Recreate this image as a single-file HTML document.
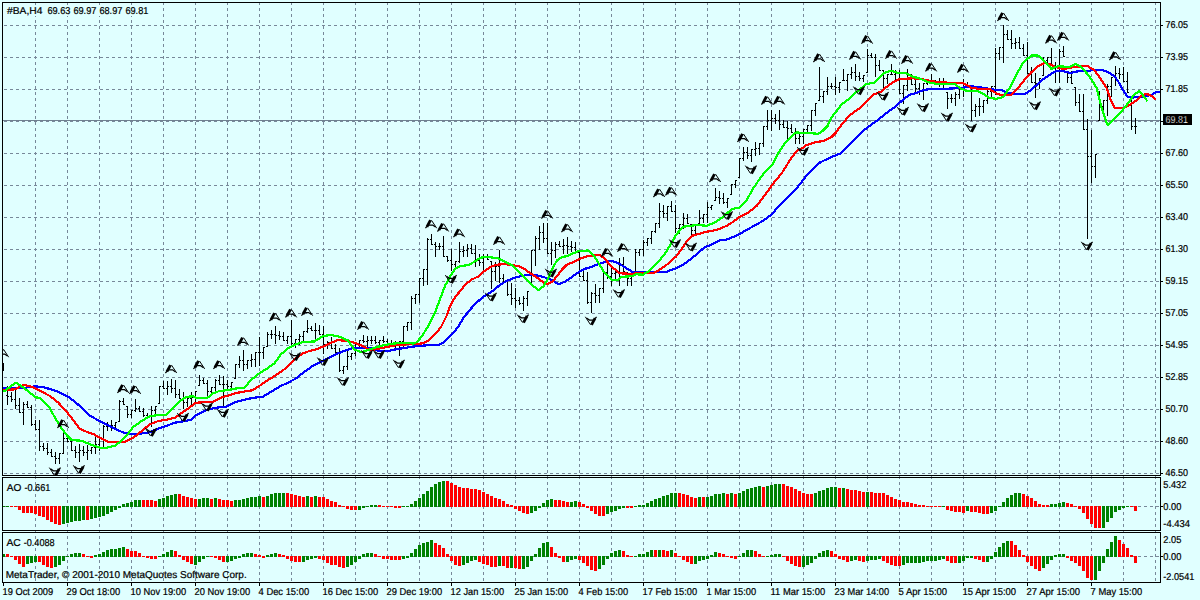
<!DOCTYPE html>
<html><head><meta charset="utf-8"><title>#BA,H4</title>
<style>
html,body{margin:0;padding:0;background:#E0FFFF;}
body{width:1200px;height:600px;overflow:hidden;}
svg{display:block;font-family:"Liberation Sans",Arial,sans-serif;font-size:10px;text-rendering:geometricPrecision;}
text{stroke:#000;stroke-width:0.22px;}
.c{shape-rendering:crispEdges;}
</style></head><body>
<svg width="1200" height="600" viewBox="0 0 1200 600">
<rect x="0" y="0" width="1200" height="600" fill="#E0FFFF"/>
<g class="c" stroke="#778899" stroke-width="1" fill="none" stroke-dasharray="3 3">
<path d="M35.5 2V476" stroke-dashoffset="0"/><path d="M35.5 478V530" stroke-dashoffset="2"/><path d="M35.5 533V582" stroke-dashoffset="3"/>
<path d="M67.5 2V476" stroke-dashoffset="0"/><path d="M67.5 478V530" stroke-dashoffset="2"/><path d="M67.5 533V582" stroke-dashoffset="3"/>
<path d="M99.5 2V476" stroke-dashoffset="0"/><path d="M99.5 478V530" stroke-dashoffset="2"/><path d="M99.5 533V582" stroke-dashoffset="3"/>
<path d="M131.5 2V476" stroke-dashoffset="0"/><path d="M131.5 478V530" stroke-dashoffset="2"/><path d="M131.5 533V582" stroke-dashoffset="3"/>
<path d="M163.5 2V476" stroke-dashoffset="0"/><path d="M163.5 478V530" stroke-dashoffset="2"/><path d="M163.5 533V582" stroke-dashoffset="3"/>
<path d="M195.5 2V476" stroke-dashoffset="0"/><path d="M195.5 478V530" stroke-dashoffset="2"/><path d="M195.5 533V582" stroke-dashoffset="3"/>
<path d="M227.5 2V476" stroke-dashoffset="0"/><path d="M227.5 478V530" stroke-dashoffset="2"/><path d="M227.5 533V582" stroke-dashoffset="3"/>
<path d="M259.5 2V476" stroke-dashoffset="0"/><path d="M259.5 478V530" stroke-dashoffset="2"/><path d="M259.5 533V582" stroke-dashoffset="3"/>
<path d="M291.5 2V476" stroke-dashoffset="0"/><path d="M291.5 478V530" stroke-dashoffset="2"/><path d="M291.5 533V582" stroke-dashoffset="3"/>
<path d="M323.5 2V476" stroke-dashoffset="0"/><path d="M323.5 478V530" stroke-dashoffset="2"/><path d="M323.5 533V582" stroke-dashoffset="3"/>
<path d="M355.5 2V476" stroke-dashoffset="0"/><path d="M355.5 478V530" stroke-dashoffset="2"/><path d="M355.5 533V582" stroke-dashoffset="3"/>
<path d="M387.5 2V476" stroke-dashoffset="0"/><path d="M387.5 478V530" stroke-dashoffset="2"/><path d="M387.5 533V582" stroke-dashoffset="3"/>
<path d="M419.5 2V476" stroke-dashoffset="0"/><path d="M419.5 478V530" stroke-dashoffset="2"/><path d="M419.5 533V582" stroke-dashoffset="3"/>
<path d="M451.5 2V476" stroke-dashoffset="0"/><path d="M451.5 478V530" stroke-dashoffset="2"/><path d="M451.5 533V582" stroke-dashoffset="3"/>
<path d="M483.5 2V476" stroke-dashoffset="0"/><path d="M483.5 478V530" stroke-dashoffset="2"/><path d="M483.5 533V582" stroke-dashoffset="3"/>
<path d="M515.5 2V476" stroke-dashoffset="0"/><path d="M515.5 478V530" stroke-dashoffset="2"/><path d="M515.5 533V582" stroke-dashoffset="3"/>
<path d="M547.5 2V476" stroke-dashoffset="0"/><path d="M547.5 478V530" stroke-dashoffset="2"/><path d="M547.5 533V582" stroke-dashoffset="3"/>
<path d="M579.5 2V476" stroke-dashoffset="0"/><path d="M579.5 478V530" stroke-dashoffset="2"/><path d="M579.5 533V582" stroke-dashoffset="3"/>
<path d="M611.5 2V476" stroke-dashoffset="0"/><path d="M611.5 478V530" stroke-dashoffset="2"/><path d="M611.5 533V582" stroke-dashoffset="3"/>
<path d="M643.5 2V476" stroke-dashoffset="0"/><path d="M643.5 478V530" stroke-dashoffset="2"/><path d="M643.5 533V582" stroke-dashoffset="3"/>
<path d="M675.5 2V476" stroke-dashoffset="0"/><path d="M675.5 478V530" stroke-dashoffset="2"/><path d="M675.5 533V582" stroke-dashoffset="3"/>
<path d="M707.5 2V476" stroke-dashoffset="0"/><path d="M707.5 478V530" stroke-dashoffset="2"/><path d="M707.5 533V582" stroke-dashoffset="3"/>
<path d="M739.5 2V476" stroke-dashoffset="0"/><path d="M739.5 478V530" stroke-dashoffset="2"/><path d="M739.5 533V582" stroke-dashoffset="3"/>
<path d="M771.5 2V476" stroke-dashoffset="0"/><path d="M771.5 478V530" stroke-dashoffset="2"/><path d="M771.5 533V582" stroke-dashoffset="3"/>
<path d="M803.5 2V476" stroke-dashoffset="0"/><path d="M803.5 478V530" stroke-dashoffset="2"/><path d="M803.5 533V582" stroke-dashoffset="3"/>
<path d="M835.5 2V476" stroke-dashoffset="0"/><path d="M835.5 478V530" stroke-dashoffset="2"/><path d="M835.5 533V582" stroke-dashoffset="3"/>
<path d="M867.5 2V476" stroke-dashoffset="0"/><path d="M867.5 478V530" stroke-dashoffset="2"/><path d="M867.5 533V582" stroke-dashoffset="3"/>
<path d="M899.5 2V476" stroke-dashoffset="0"/><path d="M899.5 478V530" stroke-dashoffset="2"/><path d="M899.5 533V582" stroke-dashoffset="3"/>
<path d="M931.5 2V476" stroke-dashoffset="0"/><path d="M931.5 478V530" stroke-dashoffset="2"/><path d="M931.5 533V582" stroke-dashoffset="3"/>
<path d="M963.5 2V476" stroke-dashoffset="0"/><path d="M963.5 478V530" stroke-dashoffset="2"/><path d="M963.5 533V582" stroke-dashoffset="3"/>
<path d="M995.5 2V476" stroke-dashoffset="0"/><path d="M995.5 478V530" stroke-dashoffset="2"/><path d="M995.5 533V582" stroke-dashoffset="3"/>
<path d="M1027.5 2V476" stroke-dashoffset="0"/><path d="M1027.5 478V530" stroke-dashoffset="2"/><path d="M1027.5 533V582" stroke-dashoffset="3"/>
<path d="M1059.5 2V476" stroke-dashoffset="0"/><path d="M1059.5 478V530" stroke-dashoffset="2"/><path d="M1059.5 533V582" stroke-dashoffset="3"/>
<path d="M1091.5 2V476" stroke-dashoffset="0"/><path d="M1091.5 478V530" stroke-dashoffset="2"/><path d="M1091.5 533V582" stroke-dashoffset="3"/>
<path d="M1123.5 2V476" stroke-dashoffset="0"/><path d="M1123.5 478V530" stroke-dashoffset="2"/><path d="M1123.5 533V582" stroke-dashoffset="3"/>
<path d="M1155.5 2V476" stroke-dashoffset="0"/><path d="M1155.5 478V530" stroke-dashoffset="2"/><path d="M1155.5 533V582" stroke-dashoffset="3"/>
<path d="M3 25.5H1160" stroke-dashoffset="5"/>
<path d="M3 57.5H1160" stroke-dashoffset="5"/>
<path d="M3 89.5H1160" stroke-dashoffset="5"/>
<path d="M3 121.5H1160" stroke-dashoffset="5"/>
<path d="M3 153.5H1160" stroke-dashoffset="5"/>
<path d="M3 185.5H1160" stroke-dashoffset="5"/>
<path d="M3 217.5H1160" stroke-dashoffset="5"/>
<path d="M3 249.5H1160" stroke-dashoffset="5"/>
<path d="M3 281.5H1160" stroke-dashoffset="5"/>
<path d="M3 313.5H1160" stroke-dashoffset="5"/>
<path d="M3 345.5H1160" stroke-dashoffset="5"/>
<path d="M3 377.5H1160" stroke-dashoffset="5"/>
<path d="M3 409.5H1160" stroke-dashoffset="5"/>
<path d="M3 441.5H1160" stroke-dashoffset="5"/>
<path d="M3 473.5H1160" stroke-dashoffset="5"/>
<path d="M3 506.5H1160" stroke-dashoffset="5"/>
<path d="M3 556.5H1160" stroke-dashoffset="5"/>
</g>
<rect class="c" x="3" y="120" width="1158" height="1" fill="#708090"/>
<g class="c" id="ao">
<rect x="2" y="506" width="3" height="1" fill="#008000"/><rect x="6" y="506" width="3" height="1" fill="#008000"/><rect x="10" y="506" width="3" height="1" fill="#FF0000"/><rect x="14" y="506" width="3" height="1" fill="#FF0000"/><rect x="18" y="506" width="3" height="4" fill="#FF0000"/><rect x="22" y="506" width="3" height="7" fill="#FF0000"/><rect x="26" y="506" width="3" height="7" fill="#FF0000"/><rect x="30" y="506" width="3" height="7" fill="#FF0000"/><rect x="34" y="506" width="3" height="8" fill="#FF0000"/><rect x="38" y="506" width="3" height="10" fill="#FF0000"/><rect x="42" y="506" width="3" height="11" fill="#FF0000"/><rect x="46" y="506" width="3" height="14" fill="#FF0000"/><rect x="50" y="506" width="3" height="16" fill="#FF0000"/><rect x="54" y="506" width="3" height="18" fill="#FF0000"/><rect x="58" y="506" width="3" height="19" fill="#FF0000"/><rect x="62" y="506" width="3" height="18" fill="#008000"/><rect x="66" y="506" width="3" height="17" fill="#008000"/><rect x="70" y="506" width="3" height="16" fill="#008000"/><rect x="74" y="506" width="3" height="15" fill="#008000"/><rect x="78" y="506" width="3" height="15" fill="#008000"/><rect x="82" y="506" width="3" height="14" fill="#008000"/><rect x="86" y="506" width="3" height="14" fill="#FF0000"/><rect x="90" y="506" width="3" height="13" fill="#008000"/><rect x="94" y="506" width="3" height="12" fill="#008000"/><rect x="98" y="506" width="3" height="11" fill="#008000"/><rect x="102" y="506" width="3" height="10" fill="#008000"/><rect x="106" y="506" width="3" height="8" fill="#008000"/><rect x="110" y="506" width="3" height="6" fill="#008000"/><rect x="114" y="506" width="3" height="4" fill="#008000"/><rect x="118" y="506" width="3" height="2" fill="#008000"/><rect x="122" y="504" width="3" height="3" fill="#008000"/><rect x="126" y="503" width="3" height="4" fill="#008000"/><rect x="130" y="502" width="3" height="5" fill="#008000"/><rect x="134" y="500" width="3" height="7" fill="#008000"/><rect x="138" y="500" width="3" height="7" fill="#008000"/><rect x="142" y="500" width="3" height="7" fill="#FF0000"/><rect x="146" y="500" width="3" height="7" fill="#FF0000"/><rect x="150" y="500" width="3" height="7" fill="#FF0000"/><rect x="154" y="501" width="3" height="6" fill="#FF0000"/><rect x="158" y="499" width="3" height="8" fill="#008000"/><rect x="162" y="498" width="3" height="9" fill="#008000"/><rect x="166" y="496" width="3" height="11" fill="#008000"/><rect x="170" y="495" width="3" height="12" fill="#008000"/><rect x="174" y="494" width="3" height="13" fill="#008000"/><rect x="178" y="494" width="3" height="13" fill="#FF0000"/><rect x="182" y="496" width="3" height="11" fill="#FF0000"/><rect x="186" y="497" width="3" height="10" fill="#FF0000"/><rect x="190" y="498" width="3" height="9" fill="#FF0000"/><rect x="194" y="499" width="3" height="8" fill="#FF0000"/><rect x="198" y="499" width="3" height="8" fill="#008000"/><rect x="202" y="498" width="3" height="9" fill="#008000"/><rect x="206" y="498" width="3" height="9" fill="#008000"/><rect x="210" y="499" width="3" height="8" fill="#FF0000"/><rect x="214" y="498" width="3" height="9" fill="#008000"/><rect x="218" y="499" width="3" height="8" fill="#FF0000"/><rect x="222" y="500" width="3" height="7" fill="#FF0000"/><rect x="226" y="500" width="3" height="7" fill="#FF0000"/><rect x="230" y="501" width="3" height="6" fill="#FF0000"/><rect x="234" y="500" width="3" height="7" fill="#008000"/><rect x="238" y="500" width="3" height="7" fill="#008000"/><rect x="242" y="499" width="3" height="8" fill="#008000"/><rect x="246" y="498" width="3" height="9" fill="#008000"/><rect x="250" y="497" width="3" height="10" fill="#008000"/><rect x="254" y="497" width="3" height="10" fill="#008000"/><rect x="258" y="496" width="3" height="11" fill="#008000"/><rect x="262" y="497" width="3" height="10" fill="#FF0000"/><rect x="266" y="496" width="3" height="11" fill="#008000"/><rect x="270" y="494" width="3" height="13" fill="#008000"/><rect x="274" y="493" width="3" height="14" fill="#008000"/><rect x="278" y="493" width="3" height="14" fill="#008000"/><rect x="282" y="493" width="3" height="14" fill="#008000"/><rect x="286" y="493" width="3" height="14" fill="#FF0000"/><rect x="290" y="494" width="3" height="13" fill="#FF0000"/><rect x="294" y="495" width="3" height="12" fill="#FF0000"/><rect x="298" y="496" width="3" height="11" fill="#FF0000"/><rect x="302" y="497" width="3" height="10" fill="#FF0000"/><rect x="306" y="496" width="3" height="11" fill="#008000"/><rect x="310" y="497" width="3" height="10" fill="#FF0000"/><rect x="314" y="496" width="3" height="11" fill="#008000"/><rect x="318" y="497" width="3" height="10" fill="#FF0000"/><rect x="322" y="497" width="3" height="10" fill="#FF0000"/><rect x="326" y="499" width="3" height="8" fill="#FF0000"/><rect x="330" y="501" width="3" height="6" fill="#FF0000"/><rect x="334" y="502" width="3" height="5" fill="#FF0000"/><rect x="338" y="505" width="3" height="2" fill="#FF0000"/><rect x="342" y="506" width="3" height="1" fill="#FF0000"/><rect x="346" y="506" width="3" height="3" fill="#FF0000"/><rect x="350" y="506" width="3" height="4" fill="#FF0000"/><rect x="354" y="506" width="3" height="4" fill="#FF0000"/><rect x="358" y="506" width="3" height="4" fill="#008000"/><rect x="362" y="506" width="3" height="2" fill="#008000"/><rect x="366" y="506" width="3" height="1" fill="#008000"/><rect x="370" y="505" width="3" height="2" fill="#008000"/><rect x="374" y="505" width="3" height="2" fill="#008000"/><rect x="378" y="505" width="3" height="2" fill="#FF0000"/><rect x="382" y="506" width="3" height="1" fill="#FF0000"/><rect x="386" y="506" width="3" height="1" fill="#FF0000"/><rect x="390" y="506" width="3" height="1" fill="#FF0000"/><rect x="394" y="506" width="3" height="2" fill="#FF0000"/><rect x="398" y="506" width="3" height="2" fill="#FF0000"/><rect x="402" y="506" width="3" height="1" fill="#008000"/><rect x="406" y="506" width="3" height="1" fill="#008000"/><rect x="410" y="504" width="3" height="3" fill="#008000"/><rect x="414" y="501" width="3" height="6" fill="#008000"/><rect x="418" y="498" width="3" height="9" fill="#008000"/><rect x="422" y="494" width="3" height="13" fill="#008000"/><rect x="426" y="491" width="3" height="16" fill="#008000"/><rect x="430" y="487" width="3" height="20" fill="#008000"/><rect x="434" y="484" width="3" height="23" fill="#008000"/><rect x="438" y="482" width="3" height="25" fill="#008000"/><rect x="442" y="481" width="3" height="26" fill="#008000"/><rect x="446" y="481" width="3" height="26" fill="#FF0000"/><rect x="450" y="483" width="3" height="24" fill="#FF0000"/><rect x="454" y="485" width="3" height="22" fill="#FF0000"/><rect x="458" y="487" width="3" height="20" fill="#FF0000"/><rect x="462" y="488" width="3" height="19" fill="#FF0000"/><rect x="466" y="488" width="3" height="19" fill="#FF0000"/><rect x="470" y="489" width="3" height="18" fill="#FF0000"/><rect x="474" y="489" width="3" height="18" fill="#FF0000"/><rect x="478" y="490" width="3" height="17" fill="#FF0000"/><rect x="482" y="492" width="3" height="15" fill="#FF0000"/><rect x="486" y="494" width="3" height="13" fill="#FF0000"/><rect x="490" y="496" width="3" height="11" fill="#FF0000"/><rect x="494" y="498" width="3" height="9" fill="#FF0000"/><rect x="498" y="499" width="3" height="8" fill="#FF0000"/><rect x="502" y="501" width="3" height="6" fill="#FF0000"/><rect x="506" y="504" width="3" height="3" fill="#FF0000"/><rect x="510" y="505" width="3" height="2" fill="#FF0000"/><rect x="514" y="506" width="3" height="3" fill="#FF0000"/><rect x="518" y="506" width="3" height="5" fill="#FF0000"/><rect x="522" y="506" width="3" height="7" fill="#FF0000"/><rect x="526" y="506" width="3" height="8" fill="#FF0000"/><rect x="530" y="506" width="3" height="7" fill="#008000"/><rect x="534" y="506" width="3" height="5" fill="#008000"/><rect x="538" y="506" width="3" height="2" fill="#008000"/><rect x="542" y="503" width="3" height="4" fill="#008000"/><rect x="546" y="500" width="3" height="7" fill="#008000"/><rect x="550" y="499" width="3" height="8" fill="#008000"/><rect x="554" y="500" width="3" height="7" fill="#FF0000"/><rect x="558" y="500" width="3" height="7" fill="#FF0000"/><rect x="562" y="501" width="3" height="6" fill="#FF0000"/><rect x="566" y="502" width="3" height="5" fill="#FF0000"/><rect x="570" y="502" width="3" height="5" fill="#008000"/><rect x="574" y="501" width="3" height="6" fill="#008000"/><rect x="578" y="502" width="3" height="5" fill="#FF0000"/><rect x="582" y="504" width="3" height="3" fill="#FF0000"/><rect x="586" y="506" width="3" height="2" fill="#FF0000"/><rect x="590" y="506" width="3" height="5" fill="#FF0000"/><rect x="594" y="506" width="3" height="8" fill="#FF0000"/><rect x="598" y="506" width="3" height="10" fill="#FF0000"/><rect x="602" y="506" width="3" height="10" fill="#FF0000"/><rect x="606" y="506" width="3" height="8" fill="#008000"/><rect x="610" y="506" width="3" height="6" fill="#008000"/><rect x="614" y="506" width="3" height="5" fill="#008000"/><rect x="618" y="506" width="3" height="3" fill="#008000"/><rect x="622" y="506" width="3" height="2" fill="#008000"/><rect x="626" y="506" width="3" height="2" fill="#FF0000"/><rect x="630" y="506" width="3" height="2" fill="#FF0000"/><rect x="634" y="506" width="3" height="1" fill="#008000"/><rect x="638" y="505" width="3" height="2" fill="#008000"/><rect x="642" y="505" width="3" height="2" fill="#008000"/><rect x="646" y="503" width="3" height="4" fill="#008000"/><rect x="650" y="501" width="3" height="6" fill="#008000"/><rect x="654" y="499" width="3" height="8" fill="#008000"/><rect x="658" y="498" width="3" height="9" fill="#008000"/><rect x="662" y="496" width="3" height="11" fill="#008000"/><rect x="666" y="495" width="3" height="12" fill="#008000"/><rect x="670" y="493" width="3" height="14" fill="#008000"/><rect x="674" y="493" width="3" height="14" fill="#008000"/><rect x="678" y="493" width="3" height="14" fill="#FF0000"/><rect x="682" y="494" width="3" height="13" fill="#FF0000"/><rect x="686" y="495" width="3" height="12" fill="#FF0000"/><rect x="690" y="497" width="3" height="10" fill="#FF0000"/><rect x="694" y="498" width="3" height="9" fill="#FF0000"/><rect x="698" y="497" width="3" height="10" fill="#008000"/><rect x="702" y="497" width="3" height="10" fill="#FF0000"/><rect x="706" y="497" width="3" height="10" fill="#008000"/><rect x="710" y="496" width="3" height="11" fill="#008000"/><rect x="714" y="494" width="3" height="13" fill="#008000"/><rect x="718" y="494" width="3" height="13" fill="#008000"/><rect x="722" y="493" width="3" height="14" fill="#008000"/><rect x="726" y="494" width="3" height="13" fill="#FF0000"/><rect x="730" y="493" width="3" height="14" fill="#008000"/><rect x="734" y="494" width="3" height="13" fill="#FF0000"/><rect x="738" y="493" width="3" height="14" fill="#008000"/><rect x="742" y="491" width="3" height="16" fill="#008000"/><rect x="746" y="489" width="3" height="18" fill="#008000"/><rect x="750" y="488" width="3" height="19" fill="#008000"/><rect x="754" y="487" width="3" height="20" fill="#008000"/><rect x="758" y="486" width="3" height="21" fill="#008000"/><rect x="762" y="487" width="3" height="20" fill="#FF0000"/><rect x="766" y="486" width="3" height="21" fill="#008000"/><rect x="770" y="485" width="3" height="22" fill="#008000"/><rect x="774" y="484" width="3" height="23" fill="#008000"/><rect x="778" y="484" width="3" height="23" fill="#008000"/><rect x="782" y="484" width="3" height="23" fill="#FF0000"/><rect x="786" y="486" width="3" height="21" fill="#FF0000"/><rect x="790" y="487" width="3" height="20" fill="#FF0000"/><rect x="794" y="489" width="3" height="18" fill="#FF0000"/><rect x="798" y="491" width="3" height="16" fill="#FF0000"/><rect x="802" y="493" width="3" height="14" fill="#FF0000"/><rect x="806" y="494" width="3" height="13" fill="#FF0000"/><rect x="810" y="494" width="3" height="13" fill="#FF0000"/><rect x="814" y="493" width="3" height="14" fill="#008000"/><rect x="818" y="491" width="3" height="16" fill="#008000"/><rect x="822" y="490" width="3" height="17" fill="#008000"/><rect x="826" y="488" width="3" height="19" fill="#008000"/><rect x="830" y="487" width="3" height="20" fill="#008000"/><rect x="834" y="487" width="3" height="20" fill="#008000"/><rect x="838" y="488" width="3" height="19" fill="#FF0000"/><rect x="842" y="488" width="3" height="19" fill="#008000"/><rect x="846" y="489" width="3" height="18" fill="#FF0000"/><rect x="850" y="490" width="3" height="17" fill="#FF0000"/><rect x="854" y="490" width="3" height="17" fill="#FF0000"/><rect x="858" y="491" width="3" height="16" fill="#FF0000"/><rect x="862" y="492" width="3" height="15" fill="#FF0000"/><rect x="866" y="492" width="3" height="15" fill="#008000"/><rect x="870" y="492" width="3" height="15" fill="#FF0000"/><rect x="874" y="493" width="3" height="14" fill="#FF0000"/><rect x="878" y="493" width="3" height="14" fill="#FF0000"/><rect x="882" y="493" width="3" height="14" fill="#FF0000"/><rect x="886" y="495" width="3" height="12" fill="#FF0000"/><rect x="890" y="497" width="3" height="10" fill="#FF0000"/><rect x="894" y="499" width="3" height="8" fill="#FF0000"/><rect x="898" y="500" width="3" height="7" fill="#FF0000"/><rect x="902" y="502" width="3" height="5" fill="#FF0000"/><rect x="906" y="502" width="3" height="5" fill="#FF0000"/><rect x="910" y="503" width="3" height="4" fill="#FF0000"/><rect x="914" y="504" width="3" height="3" fill="#FF0000"/><rect x="918" y="505" width="3" height="2" fill="#FF0000"/><rect x="922" y="505" width="3" height="2" fill="#FF0000"/><rect x="926" y="506" width="3" height="1" fill="#FF0000"/><rect x="930" y="506" width="3" height="1" fill="#FF0000"/><rect x="934" y="506" width="3" height="1" fill="#FF0000"/><rect x="938" y="506" width="3" height="1" fill="#FF0000"/><rect x="942" y="506" width="3" height="1" fill="#008000"/><rect x="946" y="506" width="3" height="4" fill="#FF0000"/><rect x="950" y="506" width="3" height="5" fill="#FF0000"/><rect x="954" y="506" width="3" height="6" fill="#FF0000"/><rect x="958" y="506" width="3" height="6" fill="#FF0000"/><rect x="962" y="506" width="3" height="7" fill="#FF0000"/><rect x="966" y="506" width="3" height="5" fill="#008000"/><rect x="970" y="506" width="3" height="6" fill="#FF0000"/><rect x="974" y="506" width="3" height="6" fill="#FF0000"/><rect x="978" y="506" width="3" height="7" fill="#FF0000"/><rect x="982" y="506" width="3" height="8" fill="#FF0000"/><rect x="986" y="506" width="3" height="8" fill="#FF0000"/><rect x="990" y="506" width="3" height="7" fill="#008000"/><rect x="994" y="506" width="3" height="5" fill="#008000"/><rect x="998" y="506" width="3" height="1" fill="#008000"/><rect x="1002" y="502" width="3" height="5" fill="#008000"/><rect x="1006" y="498" width="3" height="9" fill="#008000"/><rect x="1010" y="495" width="3" height="12" fill="#008000"/><rect x="1014" y="493" width="3" height="14" fill="#008000"/><rect x="1018" y="493" width="3" height="14" fill="#008000"/><rect x="1022" y="494" width="3" height="13" fill="#FF0000"/><rect x="1026" y="496" width="3" height="11" fill="#FF0000"/><rect x="1030" y="498" width="3" height="9" fill="#FF0000"/><rect x="1034" y="501" width="3" height="6" fill="#FF0000"/><rect x="1038" y="504" width="3" height="3" fill="#FF0000"/><rect x="1042" y="505" width="3" height="2" fill="#FF0000"/><rect x="1046" y="505" width="3" height="2" fill="#FF0000"/><rect x="1050" y="504" width="3" height="3" fill="#008000"/><rect x="1054" y="504" width="3" height="3" fill="#008000"/><rect x="1058" y="503" width="3" height="4" fill="#008000"/><rect x="1062" y="502" width="3" height="5" fill="#008000"/><rect x="1066" y="503" width="3" height="4" fill="#FF0000"/><rect x="1070" y="504" width="3" height="3" fill="#FF0000"/><rect x="1074" y="506" width="3" height="1" fill="#FF0000"/><rect x="1078" y="506" width="3" height="3" fill="#FF0000"/><rect x="1082" y="506" width="3" height="7" fill="#FF0000"/><rect x="1086" y="506" width="3" height="13" fill="#FF0000"/><rect x="1090" y="506" width="3" height="18" fill="#FF0000"/><rect x="1094" y="506" width="3" height="22" fill="#FF0000"/><rect x="1098" y="506" width="3" height="22" fill="#FF0000"/><rect x="1102" y="506" width="3" height="22" fill="#008000"/><rect x="1106" y="506" width="3" height="16" fill="#008000"/><rect x="1110" y="506" width="3" height="12" fill="#008000"/><rect x="1114" y="506" width="3" height="6" fill="#008000"/><rect x="1118" y="506" width="3" height="4" fill="#008000"/><rect x="1122" y="506" width="3" height="2" fill="#008000"/><rect x="1126" y="506" width="3" height="1" fill="#008000"/><rect x="1130" y="506" width="3" height="1" fill="#FF0000"/><rect x="1134" y="506" width="3" height="5" fill="#FF0000"/>
</g>
<g class="c" id="ac">
<rect x="2" y="554" width="3" height="3" fill="#008000"/><rect x="6" y="554" width="3" height="3" fill="#FF0000"/><rect x="10" y="556" width="3" height="1" fill="#FF0000"/><rect x="14" y="556" width="3" height="4" fill="#FF0000"/><rect x="18" y="556" width="3" height="8" fill="#FF0000"/><rect x="22" y="556" width="3" height="11" fill="#FF0000"/><rect x="26" y="556" width="3" height="8" fill="#008000"/><rect x="30" y="556" width="3" height="7" fill="#008000"/><rect x="34" y="556" width="3" height="6" fill="#008000"/><rect x="38" y="556" width="3" height="6" fill="#FF0000"/><rect x="42" y="556" width="3" height="9" fill="#FF0000"/><rect x="46" y="556" width="3" height="11" fill="#FF0000"/><rect x="50" y="556" width="3" height="12" fill="#FF0000"/><rect x="54" y="556" width="3" height="11" fill="#008000"/><rect x="58" y="556" width="3" height="9" fill="#008000"/><rect x="62" y="556" width="3" height="5" fill="#008000"/><rect x="66" y="556" width="3" height="1" fill="#008000"/><rect x="70" y="554" width="3" height="3" fill="#008000"/><rect x="74" y="553" width="3" height="4" fill="#008000"/><rect x="78" y="553" width="3" height="4" fill="#008000"/><rect x="82" y="554" width="3" height="3" fill="#FF0000"/><rect x="86" y="556" width="3" height="1" fill="#FF0000"/><rect x="90" y="556" width="3" height="2" fill="#FF0000"/><rect x="94" y="555" width="3" height="2" fill="#008000"/><rect x="98" y="554" width="3" height="3" fill="#008000"/><rect x="102" y="552" width="3" height="5" fill="#008000"/><rect x="106" y="550" width="3" height="7" fill="#008000"/><rect x="110" y="549" width="3" height="8" fill="#008000"/><rect x="114" y="549" width="3" height="8" fill="#008000"/><rect x="118" y="548" width="3" height="9" fill="#008000"/><rect x="122" y="547" width="3" height="10" fill="#008000"/><rect x="126" y="549" width="3" height="8" fill="#FF0000"/><rect x="130" y="551" width="3" height="6" fill="#FF0000"/><rect x="134" y="551" width="3" height="6" fill="#FF0000"/><rect x="138" y="553" width="3" height="4" fill="#FF0000"/><rect x="142" y="556" width="3" height="1" fill="#FF0000"/><rect x="146" y="556" width="3" height="2" fill="#FF0000"/><rect x="150" y="556" width="3" height="3" fill="#FF0000"/><rect x="154" y="556" width="3" height="3" fill="#FF0000"/><rect x="158" y="556" width="3" height="1" fill="#008000"/><rect x="162" y="554" width="3" height="3" fill="#008000"/><rect x="166" y="552" width="3" height="5" fill="#008000"/><rect x="170" y="550" width="3" height="7" fill="#008000"/><rect x="174" y="551" width="3" height="6" fill="#FF0000"/><rect x="178" y="555" width="3" height="2" fill="#FF0000"/><rect x="182" y="556" width="3" height="4" fill="#FF0000"/><rect x="186" y="556" width="3" height="6" fill="#FF0000"/><rect x="190" y="556" width="3" height="8" fill="#FF0000"/><rect x="194" y="556" width="3" height="9" fill="#008000"/><rect x="198" y="556" width="3" height="6" fill="#008000"/><rect x="202" y="556" width="3" height="3" fill="#008000"/><rect x="206" y="556" width="3" height="1" fill="#008000"/><rect x="210" y="556" width="3" height="1" fill="#FF0000"/><rect x="214" y="556" width="3" height="2" fill="#FF0000"/><rect x="218" y="556" width="3" height="4" fill="#FF0000"/><rect x="222" y="556" width="3" height="6" fill="#FF0000"/><rect x="226" y="556" width="3" height="6" fill="#008000"/><rect x="230" y="556" width="3" height="5" fill="#008000"/><rect x="234" y="556" width="3" height="3" fill="#008000"/><rect x="238" y="556" width="3" height="2" fill="#008000"/><rect x="242" y="554" width="3" height="3" fill="#008000"/><rect x="246" y="553" width="3" height="4" fill="#008000"/><rect x="250" y="553" width="3" height="4" fill="#008000"/><rect x="254" y="554" width="3" height="3" fill="#FF0000"/><rect x="258" y="555" width="3" height="2" fill="#FF0000"/><rect x="262" y="556" width="3" height="2" fill="#FF0000"/><rect x="266" y="555" width="3" height="2" fill="#008000"/><rect x="270" y="554" width="3" height="3" fill="#008000"/><rect x="274" y="553" width="3" height="4" fill="#008000"/><rect x="278" y="554" width="3" height="3" fill="#FF0000"/><rect x="282" y="555" width="3" height="2" fill="#FF0000"/><rect x="286" y="556" width="3" height="3" fill="#FF0000"/><rect x="290" y="556" width="3" height="5" fill="#FF0000"/><rect x="294" y="556" width="3" height="6" fill="#FF0000"/><rect x="298" y="556" width="3" height="6" fill="#FF0000"/><rect x="302" y="556" width="3" height="6" fill="#008000"/><rect x="306" y="556" width="3" height="4" fill="#008000"/><rect x="310" y="556" width="3" height="3" fill="#008000"/><rect x="314" y="556" width="3" height="2" fill="#008000"/><rect x="318" y="556" width="3" height="3" fill="#FF0000"/><rect x="322" y="556" width="3" height="4" fill="#FF0000"/><rect x="326" y="556" width="3" height="7" fill="#FF0000"/><rect x="330" y="556" width="3" height="9" fill="#FF0000"/><rect x="334" y="556" width="3" height="9" fill="#FF0000"/><rect x="338" y="556" width="3" height="11" fill="#FF0000"/><rect x="342" y="556" width="3" height="12" fill="#FF0000"/><rect x="346" y="556" width="3" height="11" fill="#008000"/><rect x="350" y="556" width="3" height="9" fill="#008000"/><rect x="354" y="556" width="3" height="6" fill="#008000"/><rect x="358" y="556" width="3" height="3" fill="#008000"/><rect x="362" y="554" width="3" height="3" fill="#008000"/><rect x="366" y="553" width="3" height="4" fill="#008000"/><rect x="370" y="553" width="3" height="4" fill="#008000"/><rect x="374" y="554" width="3" height="3" fill="#FF0000"/><rect x="378" y="556" width="3" height="1" fill="#FF0000"/><rect x="382" y="556" width="3" height="3" fill="#FF0000"/><rect x="386" y="556" width="3" height="3" fill="#FF0000"/><rect x="390" y="556" width="3" height="4" fill="#FF0000"/><rect x="394" y="556" width="3" height="4" fill="#FF0000"/><rect x="398" y="556" width="3" height="4" fill="#FF0000"/><rect x="402" y="556" width="3" height="3" fill="#008000"/><rect x="406" y="556" width="3" height="2" fill="#008000"/><rect x="410" y="553" width="3" height="4" fill="#008000"/><rect x="414" y="549" width="3" height="8" fill="#008000"/><rect x="418" y="545" width="3" height="12" fill="#008000"/><rect x="422" y="543" width="3" height="14" fill="#008000"/><rect x="426" y="542" width="3" height="15" fill="#008000"/><rect x="430" y="540" width="3" height="17" fill="#008000"/><rect x="434" y="543" width="3" height="14" fill="#FF0000"/><rect x="438" y="545" width="3" height="12" fill="#FF0000"/><rect x="442" y="548" width="3" height="9" fill="#FF0000"/><rect x="446" y="554" width="3" height="3" fill="#FF0000"/><rect x="450" y="556" width="3" height="5" fill="#FF0000"/><rect x="454" y="556" width="3" height="9" fill="#FF0000"/><rect x="458" y="556" width="3" height="10" fill="#FF0000"/><rect x="462" y="556" width="3" height="9" fill="#008000"/><rect x="466" y="556" width="3" height="7" fill="#008000"/><rect x="470" y="556" width="3" height="5" fill="#008000"/><rect x="474" y="556" width="3" height="4" fill="#008000"/><rect x="478" y="556" width="3" height="6" fill="#FF0000"/><rect x="482" y="556" width="3" height="8" fill="#FF0000"/><rect x="486" y="556" width="3" height="9" fill="#FF0000"/><rect x="490" y="556" width="3" height="11" fill="#FF0000"/><rect x="494" y="556" width="3" height="11" fill="#FF0000"/><rect x="498" y="556" width="3" height="10" fill="#008000"/><rect x="502" y="556" width="3" height="10" fill="#FF0000"/><rect x="506" y="556" width="3" height="12" fill="#FF0000"/><rect x="510" y="556" width="3" height="12" fill="#008000"/><rect x="514" y="556" width="3" height="12" fill="#FF0000"/><rect x="518" y="556" width="3" height="13" fill="#FF0000"/><rect x="522" y="556" width="3" height="13" fill="#008000"/><rect x="526" y="556" width="3" height="11" fill="#008000"/><rect x="530" y="556" width="3" height="5" fill="#008000"/><rect x="534" y="554" width="3" height="3" fill="#008000"/><rect x="538" y="548" width="3" height="9" fill="#008000"/><rect x="542" y="543" width="3" height="14" fill="#008000"/><rect x="546" y="542" width="3" height="15" fill="#008000"/><rect x="550" y="547" width="3" height="10" fill="#FF0000"/><rect x="554" y="553" width="3" height="4" fill="#FF0000"/><rect x="558" y="556" width="3" height="2" fill="#FF0000"/><rect x="562" y="556" width="3" height="6" fill="#FF0000"/><rect x="566" y="556" width="3" height="6" fill="#008000"/><rect x="570" y="556" width="3" height="4" fill="#008000"/><rect x="574" y="556" width="3" height="3" fill="#008000"/><rect x="578" y="556" width="3" height="4" fill="#FF0000"/><rect x="582" y="556" width="3" height="7" fill="#FF0000"/><rect x="586" y="556" width="3" height="10" fill="#FF0000"/><rect x="590" y="556" width="3" height="14" fill="#FF0000"/><rect x="594" y="556" width="3" height="15" fill="#FF0000"/><rect x="598" y="556" width="3" height="13" fill="#008000"/><rect x="602" y="556" width="3" height="9" fill="#008000"/><rect x="606" y="556" width="3" height="3" fill="#008000"/><rect x="610" y="553" width="3" height="4" fill="#008000"/><rect x="614" y="551" width="3" height="6" fill="#008000"/><rect x="618" y="550" width="3" height="7" fill="#008000"/><rect x="622" y="551" width="3" height="6" fill="#FF0000"/><rect x="626" y="555" width="3" height="2" fill="#FF0000"/><rect x="630" y="556" width="3" height="1" fill="#FF0000"/><rect x="634" y="556" width="3" height="1" fill="#008000"/><rect x="638" y="554" width="3" height="3" fill="#008000"/><rect x="642" y="554" width="3" height="3" fill="#008000"/><rect x="646" y="552" width="3" height="5" fill="#008000"/><rect x="650" y="550" width="3" height="7" fill="#008000"/><rect x="654" y="550" width="3" height="7" fill="#FF0000"/><rect x="658" y="550" width="3" height="7" fill="#008000"/><rect x="662" y="550" width="3" height="7" fill="#FF0000"/><rect x="666" y="551" width="3" height="6" fill="#FF0000"/><rect x="670" y="550" width="3" height="7" fill="#008000"/><rect x="674" y="553" width="3" height="4" fill="#FF0000"/><rect x="678" y="556" width="3" height="1" fill="#FF0000"/><rect x="682" y="556" width="3" height="4" fill="#FF0000"/><rect x="686" y="556" width="3" height="6" fill="#FF0000"/><rect x="690" y="556" width="3" height="8" fill="#FF0000"/><rect x="694" y="556" width="3" height="8" fill="#008000"/><rect x="698" y="556" width="3" height="5" fill="#008000"/><rect x="702" y="556" width="3" height="4" fill="#008000"/><rect x="706" y="556" width="3" height="3" fill="#008000"/><rect x="710" y="555" width="3" height="2" fill="#008000"/><rect x="714" y="552" width="3" height="5" fill="#008000"/><rect x="718" y="553" width="3" height="4" fill="#FF0000"/><rect x="722" y="554" width="3" height="3" fill="#FF0000"/><rect x="726" y="556" width="3" height="1" fill="#FF0000"/><rect x="730" y="556" width="3" height="2" fill="#FF0000"/><rect x="734" y="556" width="3" height="3" fill="#FF0000"/><rect x="738" y="556" width="3" height="1" fill="#008000"/><rect x="742" y="553" width="3" height="4" fill="#008000"/><rect x="746" y="550" width="3" height="7" fill="#008000"/><rect x="750" y="550" width="3" height="7" fill="#008000"/><rect x="754" y="551" width="3" height="6" fill="#FF0000"/><rect x="758" y="554" width="3" height="3" fill="#FF0000"/><rect x="762" y="556" width="3" height="1" fill="#FF0000"/><rect x="766" y="556" width="3" height="1" fill="#008000"/><rect x="770" y="555" width="3" height="2" fill="#008000"/><rect x="774" y="554" width="3" height="3" fill="#008000"/><rect x="778" y="554" width="3" height="3" fill="#008000"/><rect x="782" y="556" width="3" height="1" fill="#FF0000"/><rect x="786" y="556" width="3" height="5" fill="#FF0000"/><rect x="790" y="556" width="3" height="8" fill="#FF0000"/><rect x="794" y="556" width="3" height="10" fill="#FF0000"/><rect x="798" y="556" width="3" height="11" fill="#FF0000"/><rect x="802" y="556" width="3" height="11" fill="#008000"/><rect x="806" y="556" width="3" height="9" fill="#008000"/><rect x="810" y="556" width="3" height="7" fill="#008000"/><rect x="814" y="556" width="3" height="3" fill="#008000"/><rect x="818" y="553" width="3" height="4" fill="#008000"/><rect x="822" y="551" width="3" height="6" fill="#008000"/><rect x="826" y="550" width="3" height="7" fill="#008000"/><rect x="830" y="551" width="3" height="6" fill="#FF0000"/><rect x="834" y="554" width="3" height="3" fill="#FF0000"/><rect x="838" y="556" width="3" height="3" fill="#FF0000"/><rect x="842" y="556" width="3" height="4" fill="#FF0000"/><rect x="846" y="556" width="3" height="6" fill="#FF0000"/><rect x="850" y="556" width="3" height="5" fill="#008000"/><rect x="854" y="556" width="3" height="4" fill="#008000"/><rect x="858" y="556" width="3" height="5" fill="#FF0000"/><rect x="862" y="556" width="3" height="6" fill="#FF0000"/><rect x="866" y="556" width="3" height="5" fill="#008000"/><rect x="870" y="556" width="3" height="4" fill="#008000"/><rect x="874" y="556" width="3" height="4" fill="#008000"/><rect x="878" y="556" width="3" height="3" fill="#008000"/><rect x="882" y="556" width="3" height="5" fill="#FF0000"/><rect x="886" y="556" width="3" height="7" fill="#FF0000"/><rect x="890" y="556" width="3" height="9" fill="#FF0000"/><rect x="894" y="556" width="3" height="10" fill="#FF0000"/><rect x="898" y="556" width="3" height="10" fill="#FF0000"/><rect x="902" y="556" width="3" height="9" fill="#008000"/><rect x="906" y="556" width="3" height="7" fill="#008000"/><rect x="910" y="556" width="3" height="7" fill="#008000"/><rect x="914" y="556" width="3" height="7" fill="#008000"/><rect x="918" y="556" width="3" height="7" fill="#008000"/><rect x="922" y="556" width="3" height="6" fill="#008000"/><rect x="926" y="556" width="3" height="5" fill="#008000"/><rect x="930" y="556" width="3" height="5" fill="#008000"/><rect x="934" y="556" width="3" height="5" fill="#008000"/><rect x="938" y="556" width="3" height="4" fill="#008000"/><rect x="942" y="556" width="3" height="3" fill="#008000"/><rect x="946" y="556" width="3" height="5" fill="#FF0000"/><rect x="950" y="556" width="3" height="7" fill="#FF0000"/><rect x="954" y="556" width="3" height="7" fill="#FF0000"/><rect x="958" y="556" width="3" height="7" fill="#008000"/><rect x="962" y="556" width="3" height="5" fill="#008000"/><rect x="966" y="556" width="3" height="2" fill="#008000"/><rect x="970" y="556" width="3" height="2" fill="#008000"/><rect x="974" y="556" width="3" height="3" fill="#FF0000"/><rect x="978" y="556" width="3" height="4" fill="#FF0000"/><rect x="982" y="556" width="3" height="6" fill="#FF0000"/><rect x="986" y="556" width="3" height="6" fill="#008000"/><rect x="990" y="556" width="3" height="3" fill="#008000"/><rect x="994" y="552" width="3" height="5" fill="#008000"/><rect x="998" y="547" width="3" height="10" fill="#008000"/><rect x="1002" y="543" width="3" height="14" fill="#008000"/><rect x="1006" y="541" width="3" height="16" fill="#008000"/><rect x="1010" y="541" width="3" height="16" fill="#FF0000"/><rect x="1014" y="545" width="3" height="12" fill="#FF0000"/><rect x="1018" y="550" width="3" height="7" fill="#FF0000"/><rect x="1022" y="555" width="3" height="2" fill="#FF0000"/><rect x="1026" y="556" width="3" height="6" fill="#FF0000"/><rect x="1030" y="556" width="3" height="10" fill="#FF0000"/><rect x="1034" y="556" width="3" height="13" fill="#FF0000"/><rect x="1038" y="556" width="3" height="15" fill="#FF0000"/><rect x="1042" y="556" width="3" height="12" fill="#008000"/><rect x="1046" y="556" width="3" height="8" fill="#008000"/><rect x="1050" y="556" width="3" height="4" fill="#008000"/><rect x="1054" y="555" width="3" height="2" fill="#008000"/><rect x="1058" y="554" width="3" height="3" fill="#008000"/><rect x="1062" y="554" width="3" height="3" fill="#008000"/><rect x="1066" y="556" width="3" height="2" fill="#FF0000"/><rect x="1070" y="556" width="3" height="5" fill="#FF0000"/><rect x="1074" y="556" width="3" height="7" fill="#FF0000"/><rect x="1078" y="556" width="3" height="10" fill="#FF0000"/><rect x="1082" y="556" width="3" height="15" fill="#FF0000"/><rect x="1086" y="556" width="3" height="22" fill="#FF0000"/><rect x="1090" y="556" width="3" height="24" fill="#FF0000"/><rect x="1094" y="556" width="3" height="24" fill="#008000"/><rect x="1098" y="556" width="3" height="15" fill="#008000"/><rect x="1102" y="556" width="3" height="7" fill="#008000"/><rect x="1106" y="549" width="3" height="8" fill="#008000"/><rect x="1110" y="542" width="3" height="15" fill="#008000"/><rect x="1114" y="536" width="3" height="21" fill="#008000"/><rect x="1118" y="540" width="3" height="17" fill="#FF0000"/><rect x="1122" y="544" width="3" height="13" fill="#FF0000"/><rect x="1126" y="548" width="3" height="9" fill="#FF0000"/><rect x="1130" y="555" width="3" height="2" fill="#FF0000"/><rect x="1134" y="556" width="3" height="7" fill="#FF0000"/>
</g>
<g class="c" fill="#000" id="bars">
<rect x="7" y="386" width="1" height="19"/><rect x="6" y="395" width="2" height="1"/><rect x="7" y="396" width="2" height="1"/><rect x="11" y="392" width="1" height="10"/><rect x="10" y="396" width="2" height="1"/><rect x="11" y="399" width="2" height="1"/><rect x="15" y="390" width="1" height="19"/><rect x="14" y="399" width="2" height="1"/><rect x="15" y="405" width="2" height="1"/><rect x="19" y="398" width="1" height="15"/><rect x="18" y="405" width="2" height="1"/><rect x="19" y="412" width="2" height="1"/><rect x="23" y="402" width="1" height="23"/><rect x="22" y="412" width="2" height="1"/><rect x="23" y="404" width="2" height="1"/><rect x="27" y="401" width="1" height="7"/><rect x="26" y="404" width="2" height="1"/><rect x="27" y="407" width="2" height="1"/><rect x="31" y="405" width="1" height="21"/><rect x="30" y="407" width="2" height="1"/><rect x="31" y="424" width="2" height="1"/><rect x="35" y="420" width="1" height="10"/><rect x="34" y="424" width="2" height="1"/><rect x="35" y="429" width="2" height="1"/><rect x="39" y="420" width="1" height="31"/><rect x="38" y="429" width="2" height="1"/><rect x="39" y="446" width="2" height="1"/><rect x="43" y="443" width="1" height="8"/><rect x="42" y="446" width="2" height="1"/><rect x="43" y="448" width="2" height="1"/><rect x="47" y="443" width="1" height="12"/><rect x="46" y="448" width="2" height="1"/><rect x="47" y="452" width="2" height="1"/><rect x="51" y="449" width="1" height="8"/><rect x="50" y="452" width="2" height="1"/><rect x="51" y="456" width="2" height="1"/><rect x="55" y="452" width="1" height="12"/><rect x="54" y="456" width="2" height="1"/><rect x="55" y="458" width="2" height="1"/><rect x="59" y="453" width="1" height="11"/><rect x="58" y="458" width="2" height="1"/><rect x="59" y="453" width="2" height="1"/><rect x="63" y="432" width="1" height="22"/><rect x="62" y="453" width="2" height="1"/><rect x="63" y="438" width="2" height="1"/><rect x="67" y="434" width="1" height="8"/><rect x="66" y="438" width="2" height="1"/><rect x="67" y="441" width="2" height="1"/><rect x="71" y="438" width="1" height="13"/><rect x="70" y="441" width="2" height="1"/><rect x="71" y="450" width="2" height="1"/><rect x="75" y="446" width="1" height="12"/><rect x="74" y="450" width="2" height="1"/><rect x="75" y="452" width="2" height="1"/><rect x="79" y="444" width="1" height="18"/><rect x="78" y="452" width="2" height="1"/><rect x="79" y="450" width="2" height="1"/><rect x="83" y="446" width="1" height="10"/><rect x="82" y="450" width="2" height="1"/><rect x="83" y="452" width="2" height="1"/><rect x="87" y="445" width="1" height="15"/><rect x="86" y="452" width="2" height="1"/><rect x="87" y="450" width="2" height="1"/><rect x="91" y="447" width="1" height="7"/><rect x="90" y="450" width="2" height="1"/><rect x="91" y="447" width="2" height="1"/><rect x="95" y="436" width="1" height="18"/><rect x="94" y="447" width="2" height="1"/><rect x="95" y="444" width="2" height="1"/><rect x="99" y="438" width="1" height="13"/><rect x="98" y="444" width="2" height="1"/><rect x="99" y="438" width="2" height="1"/><rect x="103" y="425" width="1" height="22"/><rect x="102" y="438" width="2" height="1"/><rect x="103" y="426" width="2" height="1"/><rect x="107" y="422" width="1" height="9"/><rect x="106" y="426" width="2" height="1"/><rect x="107" y="425" width="2" height="1"/><rect x="111" y="420" width="1" height="11"/><rect x="110" y="425" width="2" height="1"/><rect x="111" y="425" width="2" height="1"/><rect x="115" y="422" width="1" height="7"/><rect x="114" y="425" width="2" height="1"/><rect x="115" y="422" width="2" height="1"/><rect x="119" y="400" width="1" height="22"/><rect x="118" y="421" width="2" height="1"/><rect x="119" y="401" width="2" height="1"/><rect x="123" y="398" width="1" height="7"/><rect x="122" y="401" width="2" height="1"/><rect x="123" y="404" width="2" height="1"/><rect x="127" y="406" width="1" height="12"/><rect x="126" y="406" width="2" height="1"/><rect x="127" y="414" width="2" height="1"/><rect x="131" y="410" width="1" height="8"/><rect x="130" y="414" width="2" height="1"/><rect x="131" y="410" width="2" height="1"/><rect x="135" y="399" width="1" height="13"/><rect x="134" y="410" width="2" height="1"/><rect x="135" y="408" width="2" height="1"/><rect x="139" y="406" width="1" height="6"/><rect x="138" y="408" width="2" height="1"/><rect x="139" y="411" width="2" height="1"/><rect x="143" y="408" width="1" height="9"/><rect x="142" y="411" width="2" height="1"/><rect x="143" y="415" width="2" height="1"/><rect x="147" y="413" width="1" height="5"/><rect x="146" y="415" width="2" height="1"/><rect x="147" y="416" width="2" height="1"/><rect x="151" y="406" width="1" height="21"/><rect x="150" y="416" width="2" height="1"/><rect x="151" y="410" width="2" height="1"/><rect x="155" y="406" width="1" height="9"/><rect x="154" y="410" width="2" height="1"/><rect x="155" y="406" width="2" height="1"/><rect x="159" y="386" width="1" height="18"/><rect x="158" y="403" width="2" height="1"/><rect x="159" y="386" width="2" height="1"/><rect x="163" y="381" width="1" height="8"/><rect x="162" y="386" width="2" height="1"/><rect x="163" y="388" width="2" height="1"/><rect x="167" y="381" width="1" height="14"/><rect x="166" y="388" width="2" height="1"/><rect x="167" y="386" width="2" height="1"/><rect x="171" y="379" width="1" height="14"/><rect x="170" y="386" width="2" height="1"/><rect x="171" y="388" width="2" height="1"/><rect x="175" y="380" width="1" height="18"/><rect x="174" y="388" width="2" height="1"/><rect x="175" y="394" width="2" height="1"/><rect x="179" y="389" width="1" height="10"/><rect x="178" y="394" width="2" height="1"/><rect x="179" y="398" width="2" height="1"/><rect x="183" y="392" width="1" height="17"/><rect x="182" y="398" width="2" height="1"/><rect x="183" y="402" width="2" height="1"/><rect x="187" y="398" width="1" height="9"/><rect x="186" y="402" width="2" height="1"/><rect x="187" y="398" width="2" height="1"/><rect x="191" y="392" width="1" height="13"/><rect x="190" y="398" width="2" height="1"/><rect x="191" y="397" width="2" height="1"/><rect x="195" y="391" width="1" height="13"/><rect x="194" y="397" width="2" height="1"/><rect x="195" y="391" width="2" height="1"/><rect x="199" y="375" width="1" height="11"/><rect x="198" y="385" width="2" height="1"/><rect x="199" y="380" width="2" height="1"/><rect x="203" y="378" width="1" height="6"/><rect x="202" y="380" width="2" height="1"/><rect x="203" y="383" width="2" height="1"/><rect x="207" y="380" width="1" height="18"/><rect x="206" y="383" width="2" height="1"/><rect x="207" y="391" width="2" height="1"/><rect x="211" y="387" width="1" height="9"/><rect x="210" y="391" width="2" height="1"/><rect x="211" y="387" width="2" height="1"/><rect x="215" y="379" width="1" height="12"/><rect x="214" y="387" width="2" height="1"/><rect x="215" y="380" width="2" height="1"/><rect x="219" y="375" width="1" height="10"/><rect x="218" y="380" width="2" height="1"/><rect x="219" y="384" width="2" height="1"/><rect x="223" y="376" width="1" height="31"/><rect x="222" y="384" width="2" height="1"/><rect x="223" y="384" width="2" height="1"/><rect x="227" y="380" width="1" height="10"/><rect x="226" y="384" width="2" height="1"/><rect x="227" y="386" width="2" height="1"/><rect x="231" y="382" width="1" height="8"/><rect x="230" y="386" width="2" height="1"/><rect x="231" y="382" width="2" height="1"/><rect x="235" y="364" width="1" height="15"/><rect x="234" y="378" width="2" height="1"/><rect x="235" y="364" width="2" height="1"/><rect x="239" y="356" width="1" height="12"/><rect x="238" y="364" width="2" height="1"/><rect x="239" y="360" width="2" height="1"/><rect x="243" y="350" width="1" height="21"/><rect x="242" y="360" width="2" height="1"/><rect x="243" y="364" width="2" height="1"/><rect x="247" y="360" width="1" height="9"/><rect x="246" y="364" width="2" height="1"/><rect x="247" y="360" width="2" height="1"/><rect x="251" y="354" width="1" height="13"/><rect x="250" y="360" width="2" height="1"/><rect x="251" y="359" width="2" height="1"/><rect x="255" y="352" width="1" height="15"/><rect x="254" y="359" width="2" height="1"/><rect x="255" y="352" width="2" height="1"/><rect x="259" y="337" width="1" height="29"/><rect x="258" y="352" width="2" height="1"/><rect x="259" y="352" width="2" height="1"/><rect x="263" y="347" width="1" height="12"/><rect x="262" y="352" width="2" height="1"/><rect x="263" y="347" width="2" height="1"/><rect x="267" y="332" width="1" height="15"/><rect x="266" y="346" width="2" height="1"/><rect x="267" y="334" width="2" height="1"/><rect x="271" y="330" width="1" height="9"/><rect x="270" y="334" width="2" height="1"/><rect x="271" y="334" width="2" height="1"/><rect x="275" y="326" width="1" height="18"/><rect x="274" y="334" width="2" height="1"/><rect x="275" y="335" width="2" height="1"/><rect x="279" y="331" width="1" height="9"/><rect x="278" y="335" width="2" height="1"/><rect x="279" y="336" width="2" height="1"/><rect x="283" y="332" width="1" height="9"/><rect x="282" y="336" width="2" height="1"/><rect x="283" y="340" width="2" height="1"/><rect x="287" y="336" width="1" height="8"/><rect x="286" y="340" width="2" height="1"/><rect x="287" y="336" width="2" height="1"/><rect x="291" y="320" width="1" height="28"/><rect x="290" y="336" width="2" height="1"/><rect x="291" y="343" width="2" height="1"/><rect x="295" y="339" width="1" height="9"/><rect x="294" y="343" width="2" height="1"/><rect x="295" y="339" width="2" height="1"/><rect x="299" y="334" width="1" height="11"/><rect x="298" y="339" width="2" height="1"/><rect x="299" y="336" width="2" height="1"/><rect x="303" y="331" width="1" height="10"/><rect x="302" y="336" width="2" height="1"/><rect x="303" y="331" width="2" height="1"/><rect x="307" y="320" width="1" height="13"/><rect x="306" y="331" width="2" height="1"/><rect x="307" y="328" width="2" height="1"/><rect x="311" y="326" width="1" height="5"/><rect x="310" y="328" width="2" height="1"/><rect x="311" y="330" width="2" height="1"/><rect x="315" y="323" width="1" height="17"/><rect x="314" y="330" width="2" height="1"/><rect x="315" y="330" width="2" height="1"/><rect x="319" y="325" width="1" height="10"/><rect x="318" y="330" width="2" height="1"/><rect x="319" y="334" width="2" height="1"/><rect x="323" y="326" width="1" height="28"/><rect x="322" y="334" width="2" height="1"/><rect x="323" y="344" width="2" height="1"/><rect x="327" y="341" width="1" height="8"/><rect x="326" y="344" width="2" height="1"/><rect x="327" y="342" width="2" height="1"/><rect x="331" y="337" width="1" height="12"/><rect x="330" y="342" width="2" height="1"/><rect x="331" y="348" width="2" height="1"/><rect x="335" y="344" width="1" height="9"/><rect x="334" y="348" width="2" height="1"/><rect x="335" y="352" width="2" height="1"/><rect x="339" y="348" width="1" height="24"/><rect x="338" y="352" width="2" height="1"/><rect x="339" y="370" width="2" height="1"/><rect x="343" y="366" width="1" height="8"/><rect x="342" y="370" width="2" height="1"/><rect x="343" y="366" width="2" height="1"/><rect x="347" y="350" width="1" height="20"/><rect x="346" y="366" width="2" height="1"/><rect x="347" y="356" width="2" height="1"/><rect x="351" y="353" width="1" height="7"/><rect x="350" y="356" width="2" height="1"/><rect x="351" y="353" width="2" height="1"/><rect x="355" y="343" width="1" height="13"/><rect x="354" y="353" width="2" height="1"/><rect x="355" y="343" width="2" height="1"/><rect x="359" y="340" width="1" height="7"/><rect x="358" y="343" width="2" height="1"/><rect x="359" y="340" width="2" height="1"/><rect x="363" y="335" width="1" height="8"/><rect x="362" y="340" width="2" height="1"/><rect x="363" y="341" width="2" height="1"/><rect x="367" y="336" width="1" height="11"/><rect x="366" y="341" width="2" height="1"/><rect x="367" y="340" width="2" height="1"/><rect x="371" y="336" width="1" height="8"/><rect x="370" y="340" width="2" height="1"/><rect x="371" y="340" width="2" height="1"/><rect x="375" y="336" width="1" height="8"/><rect x="374" y="340" width="2" height="1"/><rect x="375" y="342" width="2" height="1"/><rect x="379" y="340" width="1" height="6"/><rect x="378" y="342" width="2" height="1"/><rect x="379" y="340" width="2" height="1"/><rect x="383" y="336" width="1" height="7"/><rect x="382" y="340" width="2" height="1"/><rect x="383" y="341" width="2" height="1"/><rect x="387" y="339" width="1" height="5"/><rect x="386" y="341" width="2" height="1"/><rect x="387" y="343" width="2" height="1"/><rect x="391" y="340" width="1" height="7"/><rect x="390" y="343" width="2" height="1"/><rect x="391" y="346" width="2" height="1"/><rect x="395" y="341" width="1" height="10"/><rect x="394" y="346" width="2" height="1"/><rect x="395" y="348" width="2" height="1"/><rect x="399" y="341" width="1" height="15"/><rect x="398" y="348" width="2" height="1"/><rect x="399" y="341" width="2" height="1"/><rect x="403" y="326" width="1" height="23"/><rect x="402" y="341" width="2" height="1"/><rect x="403" y="326" width="2" height="1"/><rect x="407" y="322" width="1" height="9"/><rect x="406" y="326" width="2" height="1"/><rect x="407" y="322" width="2" height="1"/><rect x="411" y="296" width="1" height="34"/><rect x="410" y="322" width="2" height="1"/><rect x="411" y="298" width="2" height="1"/><rect x="415" y="294" width="1" height="10"/><rect x="414" y="298" width="2" height="1"/><rect x="415" y="294" width="2" height="1"/><rect x="419" y="278" width="1" height="25"/><rect x="418" y="294" width="2" height="1"/><rect x="419" y="278" width="2" height="1"/><rect x="423" y="269" width="1" height="17"/><rect x="422" y="278" width="2" height="1"/><rect x="423" y="269" width="2" height="1"/><rect x="427" y="238" width="1" height="47"/><rect x="426" y="269" width="2" height="1"/><rect x="427" y="239" width="2" height="1"/><rect x="431" y="234" width="1" height="11"/><rect x="430" y="239" width="2" height="1"/><rect x="431" y="244" width="2" height="1"/><rect x="435" y="242" width="1" height="15"/><rect x="434" y="244" width="2" height="1"/><rect x="435" y="246" width="2" height="1"/><rect x="439" y="243" width="1" height="7"/><rect x="438" y="246" width="2" height="1"/><rect x="439" y="246" width="2" height="1"/><rect x="443" y="236" width="1" height="21"/><rect x="442" y="246" width="2" height="1"/><rect x="443" y="256" width="2" height="1"/><rect x="447" y="256" width="1" height="6"/><rect x="446" y="256" width="2" height="1"/><rect x="447" y="260" width="2" height="1"/><rect x="451" y="249" width="1" height="22"/><rect x="450" y="260" width="2" height="1"/><rect x="451" y="264" width="2" height="1"/><rect x="455" y="261" width="1" height="6"/><rect x="454" y="264" width="2" height="1"/><rect x="455" y="261" width="2" height="1"/><rect x="459" y="242" width="1" height="21"/><rect x="458" y="261" width="2" height="1"/><rect x="459" y="251" width="2" height="1"/><rect x="463" y="246" width="1" height="11"/><rect x="462" y="251" width="2" height="1"/><rect x="463" y="250" width="2" height="1"/><rect x="467" y="244" width="1" height="13"/><rect x="466" y="250" width="2" height="1"/><rect x="467" y="248" width="2" height="1"/><rect x="471" y="244" width="1" height="10"/><rect x="470" y="248" width="2" height="1"/><rect x="471" y="253" width="2" height="1"/><rect x="475" y="245" width="1" height="22"/><rect x="474" y="253" width="2" height="1"/><rect x="475" y="260" width="2" height="1"/><rect x="479" y="254" width="1" height="12"/><rect x="478" y="260" width="2" height="1"/><rect x="479" y="262" width="2" height="1"/><rect x="483" y="254" width="1" height="16"/><rect x="482" y="262" width="2" height="1"/><rect x="483" y="256" width="2" height="1"/><rect x="487" y="254" width="1" height="6"/><rect x="486" y="256" width="2" height="1"/><rect x="487" y="259" width="2" height="1"/><rect x="491" y="261" width="1" height="28"/><rect x="490" y="261" width="2" height="1"/><rect x="491" y="271" width="2" height="1"/><rect x="495" y="262" width="1" height="19"/><rect x="494" y="271" width="2" height="1"/><rect x="495" y="266" width="2" height="1"/><rect x="499" y="250" width="1" height="33"/><rect x="498" y="266" width="2" height="1"/><rect x="499" y="278" width="2" height="1"/><rect x="503" y="274" width="1" height="8"/><rect x="502" y="278" width="2" height="1"/><rect x="503" y="281" width="2" height="1"/><rect x="507" y="281" width="1" height="15"/><rect x="506" y="281" width="2" height="1"/><rect x="507" y="294" width="2" height="1"/><rect x="511" y="283" width="1" height="22"/><rect x="510" y="294" width="2" height="1"/><rect x="511" y="298" width="2" height="1"/><rect x="515" y="288" width="1" height="20"/><rect x="514" y="298" width="2" height="1"/><rect x="515" y="300" width="2" height="1"/><rect x="519" y="297" width="1" height="8"/><rect x="518" y="300" width="2" height="1"/><rect x="519" y="303" width="2" height="1"/><rect x="523" y="296" width="1" height="15"/><rect x="522" y="303" width="2" height="1"/><rect x="523" y="298" width="2" height="1"/><rect x="527" y="291" width="1" height="15"/><rect x="526" y="298" width="2" height="1"/><rect x="527" y="291" width="2" height="1"/><rect x="531" y="250" width="1" height="33"/><rect x="530" y="282" width="2" height="1"/><rect x="531" y="250" width="2" height="1"/><rect x="535" y="236" width="1" height="30"/><rect x="534" y="250" width="2" height="1"/><rect x="535" y="238" width="2" height="1"/><rect x="539" y="226" width="1" height="24"/><rect x="538" y="238" width="2" height="1"/><rect x="539" y="232" width="2" height="1"/><rect x="543" y="223" width="1" height="20"/><rect x="542" y="232" width="2" height="1"/><rect x="543" y="238" width="2" height="1"/><rect x="547" y="223" width="1" height="31"/><rect x="546" y="238" width="2" height="1"/><rect x="547" y="253" width="2" height="1"/><rect x="551" y="242" width="1" height="23"/><rect x="550" y="253" width="2" height="1"/><rect x="551" y="250" width="2" height="1"/><rect x="555" y="242" width="1" height="16"/><rect x="554" y="250" width="2" height="1"/><rect x="555" y="244" width="2" height="1"/><rect x="559" y="241" width="1" height="6"/><rect x="558" y="244" width="2" height="1"/><rect x="559" y="246" width="2" height="1"/><rect x="563" y="239" width="1" height="15"/><rect x="562" y="246" width="2" height="1"/><rect x="563" y="245" width="2" height="1"/><rect x="567" y="237" width="1" height="17"/><rect x="566" y="245" width="2" height="1"/><rect x="567" y="246" width="2" height="1"/><rect x="571" y="241" width="1" height="11"/><rect x="570" y="246" width="2" height="1"/><rect x="571" y="247" width="2" height="1"/><rect x="575" y="242" width="1" height="11"/><rect x="574" y="247" width="2" height="1"/><rect x="575" y="252" width="2" height="1"/><rect x="579" y="251" width="1" height="26"/><rect x="578" y="252" width="2" height="1"/><rect x="579" y="276" width="2" height="1"/><rect x="583" y="271" width="1" height="10"/><rect x="582" y="276" width="2" height="1"/><rect x="583" y="280" width="2" height="1"/><rect x="587" y="272" width="1" height="32"/><rect x="586" y="280" width="2" height="1"/><rect x="587" y="302" width="2" height="1"/><rect x="591" y="292" width="1" height="21"/><rect x="590" y="302" width="2" height="1"/><rect x="591" y="293" width="2" height="1"/><rect x="595" y="284" width="1" height="19"/><rect x="594" y="293" width="2" height="1"/><rect x="595" y="295" width="2" height="1"/><rect x="599" y="288" width="1" height="15"/><rect x="598" y="295" width="2" height="1"/><rect x="599" y="288" width="2" height="1"/><rect x="603" y="272" width="1" height="21"/><rect x="602" y="288" width="2" height="1"/><rect x="603" y="272" width="2" height="1"/><rect x="607" y="263" width="1" height="16"/><rect x="606" y="272" width="2" height="1"/><rect x="607" y="276" width="2" height="1"/><rect x="611" y="267" width="1" height="19"/><rect x="610" y="276" width="2" height="1"/><rect x="611" y="273" width="2" height="1"/><rect x="615" y="268" width="1" height="11"/><rect x="614" y="273" width="2" height="1"/><rect x="615" y="272" width="2" height="1"/><rect x="619" y="258" width="1" height="28"/><rect x="618" y="272" width="2" height="1"/><rect x="619" y="264" width="2" height="1"/><rect x="623" y="257" width="1" height="15"/><rect x="622" y="264" width="2" height="1"/><rect x="623" y="271" width="2" height="1"/><rect x="627" y="272" width="1" height="14"/><rect x="626" y="272" width="2" height="1"/><rect x="627" y="278" width="2" height="1"/><rect x="631" y="272" width="1" height="14"/><rect x="630" y="278" width="2" height="1"/><rect x="631" y="272" width="2" height="1"/><rect x="635" y="249" width="1" height="24"/><rect x="634" y="272" width="2" height="1"/><rect x="635" y="252" width="2" height="1"/><rect x="639" y="249" width="1" height="7"/><rect x="638" y="252" width="2" height="1"/><rect x="639" y="249" width="2" height="1"/><rect x="643" y="240" width="1" height="16"/><rect x="642" y="249" width="2" height="1"/><rect x="643" y="242" width="2" height="1"/><rect x="647" y="238" width="1" height="8"/><rect x="646" y="242" width="2" height="1"/><rect x="647" y="238" width="2" height="1"/><rect x="651" y="231" width="1" height="13"/><rect x="650" y="238" width="2" height="1"/><rect x="651" y="231" width="2" height="1"/><rect x="655" y="223" width="1" height="10"/><rect x="654" y="231" width="2" height="1"/><rect x="655" y="223" width="2" height="1"/><rect x="659" y="203" width="1" height="25"/><rect x="658" y="223" width="2" height="1"/><rect x="659" y="211" width="2" height="1"/><rect x="663" y="205" width="1" height="13"/><rect x="662" y="211" width="2" height="1"/><rect x="663" y="213" width="2" height="1"/><rect x="667" y="206" width="1" height="15"/><rect x="666" y="213" width="2" height="1"/><rect x="667" y="206" width="2" height="1"/><rect x="671" y="201" width="1" height="11"/><rect x="670" y="206" width="2" height="1"/><rect x="671" y="211" width="2" height="1"/><rect x="675" y="205" width="1" height="28"/><rect x="674" y="211" width="2" height="1"/><rect x="675" y="228" width="2" height="1"/><rect x="679" y="224" width="1" height="10"/><rect x="678" y="228" width="2" height="1"/><rect x="679" y="224" width="2" height="1"/><rect x="683" y="213" width="1" height="16"/><rect x="682" y="224" width="2" height="1"/><rect x="683" y="218" width="2" height="1"/><rect x="687" y="214" width="1" height="10"/><rect x="686" y="218" width="2" height="1"/><rect x="687" y="223" width="2" height="1"/><rect x="691" y="224" width="1" height="12"/><rect x="690" y="224" width="2" height="1"/><rect x="691" y="230" width="2" height="1"/><rect x="695" y="225" width="1" height="11"/><rect x="694" y="230" width="2" height="1"/><rect x="695" y="225" width="2" height="1"/><rect x="699" y="210" width="1" height="14"/><rect x="698" y="223" width="2" height="1"/><rect x="699" y="218" width="2" height="1"/><rect x="703" y="214" width="1" height="9"/><rect x="702" y="218" width="2" height="1"/><rect x="703" y="214" width="2" height="1"/><rect x="707" y="202" width="1" height="21"/><rect x="706" y="214" width="2" height="1"/><rect x="707" y="207" width="2" height="1"/><rect x="711" y="205" width="1" height="5"/><rect x="710" y="207" width="2" height="1"/><rect x="711" y="205" width="2" height="1"/><rect x="715" y="188" width="1" height="13"/><rect x="714" y="200" width="2" height="1"/><rect x="715" y="197" width="2" height="1"/><rect x="719" y="191" width="1" height="13"/><rect x="718" y="197" width="2" height="1"/><rect x="719" y="198" width="2" height="1"/><rect x="723" y="193" width="1" height="11"/><rect x="722" y="198" width="2" height="1"/><rect x="723" y="202" width="2" height="1"/><rect x="727" y="198" width="1" height="10"/><rect x="726" y="202" width="2" height="1"/><rect x="727" y="198" width="2" height="1"/><rect x="731" y="184" width="1" height="11"/><rect x="730" y="194" width="2" height="1"/><rect x="731" y="184" width="2" height="1"/><rect x="735" y="180" width="1" height="8"/><rect x="734" y="184" width="2" height="1"/><rect x="735" y="180" width="2" height="1"/><rect x="739" y="158" width="1" height="20"/><rect x="738" y="177" width="2" height="1"/><rect x="739" y="158" width="2" height="1"/><rect x="743" y="147" width="1" height="14"/><rect x="742" y="158" width="2" height="1"/><rect x="743" y="152" width="2" height="1"/><rect x="747" y="147" width="1" height="12"/><rect x="746" y="152" width="2" height="1"/><rect x="747" y="155" width="2" height="1"/><rect x="751" y="149" width="1" height="13"/><rect x="750" y="155" width="2" height="1"/><rect x="751" y="149" width="2" height="1"/><rect x="755" y="142" width="1" height="14"/><rect x="754" y="149" width="2" height="1"/><rect x="755" y="148" width="2" height="1"/><rect x="759" y="143" width="1" height="12"/><rect x="758" y="148" width="2" height="1"/><rect x="759" y="143" width="2" height="1"/><rect x="763" y="126" width="1" height="21"/><rect x="762" y="143" width="2" height="1"/><rect x="763" y="126" width="2" height="1"/><rect x="767" y="110" width="1" height="20"/><rect x="766" y="126" width="2" height="1"/><rect x="767" y="120" width="2" height="1"/><rect x="771" y="110" width="1" height="21"/><rect x="770" y="120" width="2" height="1"/><rect x="771" y="118" width="2" height="1"/><rect x="775" y="114" width="1" height="10"/><rect x="774" y="118" width="2" height="1"/><rect x="775" y="120" width="2" height="1"/><rect x="779" y="110" width="1" height="20"/><rect x="778" y="120" width="2" height="1"/><rect x="779" y="124" width="2" height="1"/><rect x="783" y="120" width="1" height="8"/><rect x="782" y="124" width="2" height="1"/><rect x="783" y="127" width="2" height="1"/><rect x="787" y="121" width="1" height="19"/><rect x="786" y="127" width="2" height="1"/><rect x="787" y="128" width="2" height="1"/><rect x="791" y="124" width="1" height="9"/><rect x="790" y="128" width="2" height="1"/><rect x="791" y="132" width="2" height="1"/><rect x="795" y="128" width="1" height="16"/><rect x="794" y="132" width="2" height="1"/><rect x="795" y="138" width="2" height="1"/><rect x="799" y="132" width="1" height="12"/><rect x="798" y="138" width="2" height="1"/><rect x="799" y="136" width="2" height="1"/><rect x="803" y="129" width="1" height="15"/><rect x="802" y="136" width="2" height="1"/><rect x="803" y="129" width="2" height="1"/><rect x="807" y="125" width="1" height="8"/><rect x="806" y="129" width="2" height="1"/><rect x="807" y="125" width="2" height="1"/><rect x="811" y="110" width="1" height="21"/><rect x="810" y="125" width="2" height="1"/><rect x="811" y="110" width="2" height="1"/><rect x="815" y="103" width="1" height="13"/><rect x="814" y="110" width="2" height="1"/><rect x="815" y="103" width="2" height="1"/><rect x="819" y="67" width="1" height="34"/><rect x="818" y="100" width="2" height="1"/><rect x="819" y="96" width="2" height="1"/><rect x="823" y="91" width="1" height="12"/><rect x="822" y="96" width="2" height="1"/><rect x="823" y="91" width="2" height="1"/><rect x="827" y="77" width="1" height="18"/><rect x="826" y="91" width="2" height="1"/><rect x="827" y="86" width="2" height="1"/><rect x="831" y="83" width="1" height="6"/><rect x="830" y="86" width="2" height="1"/><rect x="831" y="86" width="2" height="1"/><rect x="835" y="77" width="1" height="18"/><rect x="834" y="86" width="2" height="1"/><rect x="835" y="87" width="2" height="1"/><rect x="839" y="82" width="1" height="11"/><rect x="838" y="87" width="2" height="1"/><rect x="839" y="82" width="2" height="1"/><rect x="843" y="69" width="1" height="12"/><rect x="842" y="80" width="2" height="1"/><rect x="843" y="80" width="2" height="1"/><rect x="847" y="74" width="1" height="17"/><rect x="846" y="80" width="2" height="1"/><rect x="847" y="74" width="2" height="1"/><rect x="851" y="67" width="1" height="12"/><rect x="850" y="74" width="2" height="1"/><rect x="851" y="72" width="2" height="1"/><rect x="855" y="64" width="1" height="17"/><rect x="854" y="72" width="2" height="1"/><rect x="855" y="76" width="2" height="1"/><rect x="859" y="72" width="1" height="9"/><rect x="858" y="76" width="2" height="1"/><rect x="859" y="78" width="2" height="1"/><rect x="863" y="75" width="1" height="7"/><rect x="862" y="78" width="2" height="1"/><rect x="863" y="75" width="2" height="1"/><rect x="867" y="49" width="1" height="24"/><rect x="866" y="72" width="2" height="1"/><rect x="867" y="55" width="2" height="1"/><rect x="871" y="53" width="1" height="5"/><rect x="870" y="55" width="2" height="1"/><rect x="871" y="57" width="2" height="1"/><rect x="875" y="54" width="1" height="23"/><rect x="874" y="57" width="2" height="1"/><rect x="875" y="65" width="2" height="1"/><rect x="879" y="60" width="1" height="11"/><rect x="878" y="65" width="2" height="1"/><rect x="879" y="70" width="2" height="1"/><rect x="883" y="70" width="1" height="19"/><rect x="882" y="70" width="2" height="1"/><rect x="883" y="78" width="2" height="1"/><rect x="887" y="74" width="1" height="10"/><rect x="886" y="78" width="2" height="1"/><rect x="887" y="74" width="2" height="1"/><rect x="891" y="64" width="1" height="11"/><rect x="890" y="74" width="2" height="1"/><rect x="891" y="74" width="2" height="1"/><rect x="895" y="70" width="1" height="11"/><rect x="894" y="74" width="2" height="1"/><rect x="895" y="80" width="2" height="1"/><rect x="899" y="70" width="1" height="24"/><rect x="898" y="80" width="2" height="1"/><rect x="899" y="93" width="2" height="1"/><rect x="903" y="85" width="1" height="19"/><rect x="902" y="93" width="2" height="1"/><rect x="903" y="85" width="2" height="1"/><rect x="907" y="69" width="1" height="22"/><rect x="906" y="85" width="2" height="1"/><rect x="907" y="79" width="2" height="1"/><rect x="911" y="74" width="1" height="11"/><rect x="910" y="79" width="2" height="1"/><rect x="911" y="84" width="2" height="1"/><rect x="915" y="78" width="1" height="14"/><rect x="914" y="84" width="2" height="1"/><rect x="915" y="88" width="2" height="1"/><rect x="919" y="83" width="1" height="12"/><rect x="918" y="88" width="2" height="1"/><rect x="919" y="91" width="2" height="1"/><rect x="923" y="83" width="1" height="17"/><rect x="922" y="91" width="2" height="1"/><rect x="923" y="83" width="2" height="1"/><rect x="927" y="80" width="1" height="5"/><rect x="926" y="83" width="2" height="1"/><rect x="927" y="80" width="2" height="1"/><rect x="931" y="74" width="1" height="9"/><rect x="930" y="80" width="2" height="1"/><rect x="931" y="82" width="2" height="1"/><rect x="935" y="80" width="1" height="5"/><rect x="934" y="82" width="2" height="1"/><rect x="935" y="82" width="2" height="1"/><rect x="939" y="78" width="1" height="9"/><rect x="938" y="82" width="2" height="1"/><rect x="939" y="83" width="2" height="1"/><rect x="943" y="78" width="1" height="11"/><rect x="942" y="83" width="2" height="1"/><rect x="943" y="88" width="2" height="1"/><rect x="947" y="92" width="1" height="17"/><rect x="946" y="92" width="2" height="1"/><rect x="947" y="98" width="2" height="1"/><rect x="951" y="94" width="1" height="9"/><rect x="950" y="98" width="2" height="1"/><rect x="951" y="98" width="2" height="1"/><rect x="955" y="92" width="1" height="14"/><rect x="954" y="98" width="2" height="1"/><rect x="955" y="94" width="2" height="1"/><rect x="959" y="89" width="1" height="10"/><rect x="958" y="94" width="2" height="1"/><rect x="959" y="89" width="2" height="1"/><rect x="963" y="79" width="1" height="18"/><rect x="962" y="89" width="2" height="1"/><rect x="963" y="84" width="2" height="1"/><rect x="967" y="82" width="1" height="5"/><rect x="966" y="84" width="2" height="1"/><rect x="967" y="86" width="2" height="1"/><rect x="971" y="85" width="1" height="36"/><rect x="970" y="86" width="2" height="1"/><rect x="971" y="110" width="2" height="1"/><rect x="975" y="104" width="1" height="13"/><rect x="974" y="110" width="2" height="1"/><rect x="975" y="106" width="2" height="1"/><rect x="979" y="98" width="1" height="18"/><rect x="978" y="106" width="2" height="1"/><rect x="979" y="106" width="2" height="1"/><rect x="983" y="100" width="1" height="13"/><rect x="982" y="106" width="2" height="1"/><rect x="983" y="100" width="2" height="1"/><rect x="987" y="87" width="1" height="17"/><rect x="986" y="100" width="2" height="1"/><rect x="987" y="91" width="2" height="1"/><rect x="991" y="86" width="1" height="11"/><rect x="990" y="91" width="2" height="1"/><rect x="991" y="86" width="2" height="1"/><rect x="995" y="48" width="1" height="47"/><rect x="994" y="86" width="2" height="1"/><rect x="995" y="53" width="2" height="1"/><rect x="999" y="47" width="1" height="13"/><rect x="998" y="53" width="2" height="1"/><rect x="999" y="47" width="2" height="1"/><rect x="1003" y="25" width="1" height="38"/><rect x="1002" y="47" width="2" height="1"/><rect x="1003" y="34" width="2" height="1"/><rect x="1007" y="30" width="1" height="10"/><rect x="1006" y="34" width="2" height="1"/><rect x="1007" y="39" width="2" height="1"/><rect x="1011" y="30" width="1" height="19"/><rect x="1010" y="39" width="2" height="1"/><rect x="1011" y="43" width="2" height="1"/><rect x="1015" y="38" width="1" height="11"/><rect x="1014" y="43" width="2" height="1"/><rect x="1015" y="42" width="2" height="1"/><rect x="1019" y="37" width="1" height="12"/><rect x="1018" y="42" width="2" height="1"/><rect x="1019" y="48" width="2" height="1"/><rect x="1023" y="44" width="1" height="12"/><rect x="1022" y="48" width="2" height="1"/><rect x="1023" y="55" width="2" height="1"/><rect x="1027" y="42" width="1" height="32"/><rect x="1026" y="55" width="2" height="1"/><rect x="1027" y="73" width="2" height="1"/><rect x="1031" y="67" width="1" height="16"/><rect x="1030" y="73" width="2" height="1"/><rect x="1031" y="82" width="2" height="1"/><rect x="1035" y="73" width="1" height="25"/><rect x="1034" y="82" width="2" height="1"/><rect x="1035" y="83" width="2" height="1"/><rect x="1039" y="78" width="1" height="11"/><rect x="1038" y="83" width="2" height="1"/><rect x="1039" y="78" width="2" height="1"/><rect x="1043" y="57" width="1" height="19"/><rect x="1042" y="75" width="2" height="1"/><rect x="1043" y="60" width="2" height="1"/><rect x="1047" y="57" width="1" height="6"/><rect x="1046" y="60" width="2" height="1"/><rect x="1047" y="57" width="2" height="1"/><rect x="1051" y="48" width="1" height="18"/><rect x="1050" y="57" width="2" height="1"/><rect x="1051" y="65" width="2" height="1"/><rect x="1055" y="62" width="1" height="21"/><rect x="1054" y="65" width="2" height="1"/><rect x="1055" y="66" width="2" height="1"/><rect x="1059" y="49" width="1" height="34"/><rect x="1058" y="66" width="2" height="1"/><rect x="1059" y="51" width="2" height="1"/><rect x="1063" y="46" width="1" height="11"/><rect x="1062" y="51" width="2" height="1"/><rect x="1063" y="56" width="2" height="1"/><rect x="1067" y="71" width="1" height="12"/><rect x="1066" y="71" width="2" height="1"/><rect x="1067" y="77" width="2" height="1"/><rect x="1071" y="71" width="1" height="13"/><rect x="1070" y="77" width="2" height="1"/><rect x="1071" y="83" width="2" height="1"/><rect x="1075" y="87" width="1" height="19"/><rect x="1074" y="87" width="2" height="1"/><rect x="1075" y="102" width="2" height="1"/><rect x="1079" y="94" width="1" height="18"/><rect x="1078" y="102" width="2" height="1"/><rect x="1079" y="111" width="2" height="1"/><rect x="1083" y="94" width="1" height="36"/><rect x="1082" y="111" width="2" height="1"/><rect x="1083" y="129" width="2" height="1"/><rect x="1087" y="119" width="1" height="120"/><rect x="1086" y="129" width="2" height="1"/><rect x="1087" y="156" width="2" height="1"/><rect x="1091" y="130" width="1" height="53"/><rect x="1090" y="156" width="2" height="1"/><rect x="1091" y="166" width="2" height="1"/><rect x="1095" y="154" width="1" height="24"/><rect x="1094" y="166" width="2" height="1"/><rect x="1095" y="154" width="2" height="1"/><rect x="1099" y="91" width="1" height="30"/><rect x="1098" y="120" width="2" height="1"/><rect x="1099" y="106" width="2" height="1"/><rect x="1103" y="100" width="1" height="13"/><rect x="1102" y="106" width="2" height="1"/><rect x="1103" y="100" width="2" height="1"/><rect x="1107" y="84" width="1" height="32"/><rect x="1106" y="100" width="2" height="1"/><rect x="1107" y="86" width="2" height="1"/><rect x="1111" y="77" width="1" height="20"/><rect x="1110" y="86" width="2" height="1"/><rect x="1111" y="77" width="2" height="1"/><rect x="1115" y="66" width="1" height="20"/><rect x="1114" y="77" width="2" height="1"/><rect x="1115" y="73" width="2" height="1"/><rect x="1119" y="68" width="1" height="11"/><rect x="1118" y="73" width="2" height="1"/><rect x="1119" y="74" width="2" height="1"/><rect x="1123" y="67" width="1" height="15"/><rect x="1122" y="74" width="2" height="1"/><rect x="1123" y="81" width="2" height="1"/><rect x="1127" y="72" width="1" height="21"/><rect x="1126" y="81" width="2" height="1"/><rect x="1127" y="92" width="2" height="1"/><rect x="1131" y="97" width="1" height="33"/><rect x="1130" y="97" width="2" height="1"/><rect x="1131" y="126" width="2" height="1"/><rect x="1135" y="118" width="1" height="16"/><rect x="1134" y="126" width="2" height="1"/><rect x="1135" y="126" width="2" height="1"/><rect x="3" y="363" width="1" height="8"/>
</g>
<polyline points="3.5,388.5 16.7,388 25,387.7 35.5,386.3 43.3,387.3 50,389 58.3,391.8 67.5,396.3 75,401.8 83.3,409.3 90,415.7 99.5,421 108.3,425.2 116.7,429.7 125,433.2 133.3,434 141.7,433.5 150,432.3 158.3,428.5 166.7,425.7 175,422.7 183.3,421.3 191.7,419.7 196,415.2 206,410.2 216,407.7 226,406.8 236,401.8 246,399.3 254.3,397.7 262.7,396.8 271,391.8 279.3,386.8 287.7,382.7 296,378.5 304.3,371.8 312.7,366 321,361.8 329.3,357.7 337.7,353.5 346,350.2 354.3,347.7 362.7,348.2 371,348.5 379.3,351 387.7,351 395,349.5 404,348 414,346.5 424,345.5 434,345 440,344.5 444,342 449,337 454,332 459,325.5 464,317 469,311 474,305 479,300.5 484,296.5 489,293.5 494,290 500.3,284.5 508.7,280 517,277 525.3,275.3 530.3,274.5 537,275.3 543.7,277 550.3,279.5 558.7,284 565.3,281.7 572,277 578.7,272 585.3,268.7 588,268 596.3,265 604.7,262.2 611.3,260.8 618,263 624.7,267.2 632.2,271.8 641.3,271.8 654.7,271.8 666.3,271.8 674.7,268.8 683,264.7 691.3,258.8 698,253 704.7,247.2 711.3,244.7 719.7,240.5 726.3,239.7 734.7,236.3 737.5,235 746.7,230 756.7,224.2 763.3,220.8 771.7,214.2 780,205 788.3,196.7 796.7,188.3 805,177.5 813.3,168.3 820,162.5 826.7,159.2 833.3,156.3 840,153.7 844.3,150 856,138.3 864.3,130 871,125 877.7,120 886,113.3 894.3,107.5 902.7,100 909.3,95 916,93 922.7,90.3 928,89.3 944.7,88.8 961.3,88 971.3,86.3 983,87.7 994.7,89.7 1001.3,90 1008,93 1016.3,94.2 1025.5,93.8 1031.3,89.7 1038,83.8 1044.7,78 1051.3,73.8 1056.3,71 1063,71 1069.7,73 1078,71.3 1086.3,71 1094.7,70 1101.3,69.7 1108,72.2 1114.7,76.3 1119.7,83.8 1121.7,88.3 1127.5,96.7 1133.3,97.5 1141.7,96.7 1151.7,95 1155,92.5 1160,92" fill="none" stroke="#0000FF" stroke-width="2.2" stroke-linejoin="round" stroke-linecap="butt" shape-rendering="crispEdges"/>
<polyline points="3.5,390.2 15.8,389.3 20,386 25,385.2 33.3,387.3 41.7,391.8 50,396 58.3,402.7 66.7,411.8 73.3,420.2 80,429 86.7,431.8 93.3,434 100,438 108.3,441.8 116.7,442.3 125,441.8 133.3,437.7 141.7,431 150,424.3 158.3,421 166.7,419.7 175,417.7 183.3,411.8 191.7,406 196,402.7 212.7,401.8 221,397.7 229.3,395.2 237.7,392.7 246,391.3 252.7,390.2 259.3,386 267.7,380.2 276,375.2 284.3,369.3 291,362.7 296,358.5 302.7,353.5 309.3,351 316,349.3 322.7,346.8 329.3,343.5 337.7,340.2 346,340.7 354.3,342.7 362.7,346 369.3,350.2 376,349.3 383.3,347.8 394,345.5 404,344.5 414,344 422,343.5 427,341.5 432,337.5 437,332 441,327 444,321 447,315 449,309 452,302 456,296 461,290 465.3,284.5 472,279.5 478.7,276.2 485.3,270.3 492,266.2 498.7,264.5 505.3,264.2 512,265 518.7,266.2 525.3,269.5 532,274.5 538.7,278.7 543.7,282.8 547.8,284 552,282 557,276.2 562,269.5 567,264.5 573.7,262 580.3,258.7 588,256 599.7,254.7 604.7,258.8 611.3,266.3 619.7,273.3 631.3,273.8 643,273 653,273.3 659.7,269.7 668,263.8 676.3,256.3 683,247.2 688,239.7 693,235.5 695,235 706.7,231.7 716.7,230 726.7,225.8 733.3,221.7 740,216.7 748.3,212.5 756.7,205.8 765,195 773.3,183.3 781.7,173.3 790,160 796.7,150.8 800.2,149.6 806,145.4 814.3,142.5 824.3,140.8 831,137.5 836,132.5 839.3,127.5 844.3,121.7 849.3,115.4 856,110.8 859.3,108.3 867.7,100 874.3,94.2 881,91.7 886,87.5 892.7,82.5 899.3,79.2 906,78.7 912.7,78.3 919.3,78.7 928,80.5 936.3,81.8 948,82.7 963,83 971.3,87.7 981.3,89.2 989.7,89.2 996.3,93.3 1003,95.5 1011.3,94.7 1018,88 1024.7,79.7 1031.3,72.2 1038,66.3 1044.7,63 1051.3,64.7 1058,68 1064.7,68.8 1073,67.2 1081.3,66.3 1088,66.3 1094.7,70.5 1101.3,79.7 1106.7,88.3 1110.8,100 1115,108 1123.3,108 1130,105 1136.7,100 1141.7,95.8 1145,94.2 1150,94.7 1155.8,99.7" fill="none" stroke="#FF0000" stroke-width="2.2" stroke-linejoin="round" stroke-linecap="butt" shape-rendering="crispEdges"/>
<polyline points="3.5,391.8 10,386.8 15.8,382.7 20,385.2 26.7,390.2 35.5,397.3 39.2,397.7 45,402.7 50,408.5 55,417.7 60,426 66.7,435.2 71.7,440.2 81.7,440.7 90,444.3 100,447.7 106.7,447.7 115,445.7 120,441.8 126.7,435.7 133.3,426.8 141.7,421 150,416 158.3,415.2 166.7,414.7 173.3,407.7 180,401 186.7,396.8 193.3,396.3 196,398 207.7,397.7 212.7,393.5 219.3,391 227.5,390.2 236,388.5 244.3,387.7 251,380.2 257.7,374.3 266,369.3 274.3,363.5 281,354.3 287.7,348.5 296,344.3 304.3,341.8 314.3,341.5 322.7,336.3 331,334.8 339.3,336.8 347.7,340.2 354.3,349.3 361,352.3 367.7,350.2 374.3,347.7 381,346 384,345 394,343.5 404,343 414,343.5 417,342 422,336 427,328 432,319 436,310 440,299 443.5,290 445.3,285.3 450.3,276.2 455.3,268.7 460.3,266.2 468.7,265 475.3,261.2 480.3,257.8 487,256.7 493.7,257.8 499.5,258.7 505.3,262 512,265.3 518.7,272 525.3,278.7 532,285.3 538.7,290 543.7,286.2 547.8,278.7 552,269.5 557,260.3 562,257 567,256.2 572,253.7 578.7,251.2 588,250.5 593,254.7 598,262.2 604.7,273 611.3,279.7 618,279.7 621.3,276.8 631.3,276.3 636.3,274.3 643,274.7 649.7,270.5 656.3,263.8 663,256.3 668,248.8 673,240.5 675.8,235 683.3,226.7 690,225.8 698.3,225 706.7,225.8 715,222.5 723.3,216.7 731.7,209.2 739.2,207.5 746.7,200 753.3,188.3 760,178.3 766.7,170 773.3,163.3 778.3,153.3 780.2,150 785.2,142.5 793.5,134.2 796,132.5 806,132.9 818.5,133.8 822.7,130.8 827.7,125.8 831,118.3 836,111.7 841.8,104.2 847.7,100 852.7,95 859.3,90 866,84.2 874.3,82.5 879.3,77.5 884.3,73 891,70.8 897.7,73 906,73 912.7,76.7 919.3,78.3 928,82.2 938,84.2 954.7,84.2 961.3,88.8 968,91.3 978,91 984.7,94.7 989.7,98 996.3,98.8 1003,97.2 1009.7,88 1016.3,74.7 1023,63 1031.3,55.5 1038,55.5 1044.7,61.3 1051.3,68.8 1058,66.3 1066.3,66.7 1069.7,67.2 1075.5,63.8 1081.3,67.2 1088,74.7 1094.7,84.7 1096.7,88.3 1100,101.7 1103.3,113.3 1107.5,125 1113.3,120 1120,113.3 1126.7,105 1133.3,95.8 1139.2,90.8 1143.3,95.8 1147.5,101.3" fill="none" stroke="#00FF00" stroke-width="2.2" stroke-linejoin="round" stroke-linecap="butt" shape-rendering="crispEdges"/>
<defs><clipPath id="mainclip"><rect x="3" y="3" width="1157" height="472"/></clipPath></defs>
<g id="fractals" clip-path="url(#mainclip)" stroke="#000" fill="#000">
<path fill="none" stroke-width="2.8" d="M2.5 349.2L-1.1 355.8"/><path fill="none" stroke-width="1.25" d="M-0.9 355.3L-2.6 357.2M0.0 354.0L4.6 354.0L7.5 356.1"/><path fill="none" stroke-width="1.0" d="M3.5 349.3L8.7 357.2"/><path fill="none" stroke-width="2.8" d="M62.5 419.9L58.9 426.5"/><path fill="none" stroke-width="1.25" d="M59.1 426.0L57.4 427.9M60.0 424.7L64.6 424.7L67.5 426.8"/><path fill="none" stroke-width="1.0" d="M63.5 420.0L68.7 427.9"/><path fill="none" stroke-width="2.8" d="M122.5 384.9L118.9 391.5"/><path fill="none" stroke-width="1.25" d="M119.1 391.0L117.4 392.9M120.0 389.7L124.6 389.7L127.5 391.8"/><path fill="none" stroke-width="1.0" d="M123.5 385.0L128.7 392.9"/><path fill="none" stroke-width="2.8" d="M134.5 385.9L130.9 392.5"/><path fill="none" stroke-width="1.25" d="M131.1 392.0L129.4 393.9M132.0 390.7L136.6 390.7L139.5 392.8"/><path fill="none" stroke-width="1.0" d="M135.5 386.0L140.7 393.9"/><path fill="none" stroke-width="2.8" d="M170.5 365.1L166.9 371.6"/><path fill="none" stroke-width="1.25" d="M167.1 371.1L165.4 373.0M168.0 369.8L172.6 369.8L175.5 371.9"/><path fill="none" stroke-width="1.0" d="M171.5 365.1L176.7 373.0"/><path fill="none" stroke-width="2.8" d="M198.5 360.9L194.9 367.5"/><path fill="none" stroke-width="1.25" d="M195.1 367.0L193.4 368.9M196.0 365.7L200.6 365.7L203.5 367.8"/><path fill="none" stroke-width="1.0" d="M199.5 361.0L204.7 368.9"/><path fill="none" stroke-width="2.8" d="M218.5 360.9L214.9 367.5"/><path fill="none" stroke-width="1.25" d="M215.1 367.0L213.4 368.9M216.0 365.7L220.6 365.7L223.5 367.8"/><path fill="none" stroke-width="1.0" d="M219.5 361.0L224.7 368.9"/><path fill="none" stroke-width="2.8" d="M242.5 337.6L238.9 344.1"/><path fill="none" stroke-width="1.25" d="M239.1 343.6L237.4 345.5M240.0 342.3L244.6 342.3L247.5 344.4"/><path fill="none" stroke-width="1.0" d="M243.5 337.6L248.7 345.5"/><path fill="none" stroke-width="2.8" d="M274.5 313.2L270.9 319.8"/><path fill="none" stroke-width="1.25" d="M271.1 319.3L269.4 321.2M272.0 318.0L276.6 318.0L279.5 320.1"/><path fill="none" stroke-width="1.0" d="M275.5 313.3L280.7 321.2"/><path fill="none" stroke-width="2.8" d="M290.5 309.4L286.9 316.0"/><path fill="none" stroke-width="1.25" d="M287.1 315.5L285.4 317.4M288.0 314.2L292.6 314.2L295.5 316.3"/><path fill="none" stroke-width="1.0" d="M291.5 309.5L296.7 317.4"/><path fill="none" stroke-width="2.8" d="M306.5 307.8L302.9 314.3"/><path fill="none" stroke-width="1.25" d="M303.1 313.8L301.4 315.7M304.0 312.5L308.6 312.5L311.5 314.6"/><path fill="none" stroke-width="1.0" d="M307.5 307.8L312.7 315.7"/><path fill="none" stroke-width="2.8" d="M362.5 321.8L358.9 328.3"/><path fill="none" stroke-width="1.25" d="M359.1 327.8L357.4 329.7M360.0 326.5L364.6 326.5L367.5 328.6"/><path fill="none" stroke-width="1.0" d="M363.5 321.8L368.7 329.7"/><path fill="none" stroke-width="2.8" d="M430.5 220.2L426.9 226.8"/><path fill="none" stroke-width="1.25" d="M427.1 226.3L425.4 228.2M428.0 225.0L432.6 225.0L435.5 227.1"/><path fill="none" stroke-width="1.0" d="M431.5 220.3L436.7 228.2"/><path fill="none" stroke-width="2.8" d="M442.5 223.6L438.9 230.1"/><path fill="none" stroke-width="1.25" d="M439.1 229.6L437.4 231.5M440.0 228.3L444.6 228.3L447.5 230.4"/><path fill="none" stroke-width="1.0" d="M443.5 223.6L448.7 231.5"/><path fill="none" stroke-width="2.8" d="M458.5 229.2L454.9 235.8"/><path fill="none" stroke-width="1.25" d="M455.1 235.3L453.4 237.2M456.0 234.0L460.6 234.0L463.5 236.1"/><path fill="none" stroke-width="1.0" d="M459.5 229.3L464.7 237.2"/><path fill="none" stroke-width="2.8" d="M498.5 236.8L494.9 243.3"/><path fill="none" stroke-width="1.25" d="M495.1 242.8L493.4 244.7M496.0 241.5L500.6 241.5L503.5 243.6"/><path fill="none" stroke-width="1.0" d="M499.5 236.8L504.7 244.7"/><path fill="none" stroke-width="2.8" d="M546.5 210.6L542.9 217.1"/><path fill="none" stroke-width="1.25" d="M543.1 216.6L541.4 218.5M544.0 215.3L548.6 215.3L551.5 217.4"/><path fill="none" stroke-width="1.0" d="M547.5 210.6L552.7 218.5"/><path fill="none" stroke-width="2.8" d="M566.5 224.2L562.9 230.8"/><path fill="none" stroke-width="1.25" d="M563.1 230.3L561.4 232.2M564.0 229.0L568.6 229.0L571.5 231.1"/><path fill="none" stroke-width="1.0" d="M567.5 224.3L572.7 232.2"/><path fill="none" stroke-width="2.8" d="M606.5 248.6L602.9 255.1"/><path fill="none" stroke-width="1.25" d="M603.1 254.6L601.4 256.5M604.0 253.3L608.6 253.3L611.5 255.4"/><path fill="none" stroke-width="1.0" d="M607.5 248.6L612.7 256.5"/><path fill="none" stroke-width="2.8" d="M622.5 243.8L618.9 250.3"/><path fill="none" stroke-width="1.25" d="M619.1 249.8L617.4 251.7M620.0 248.5L624.6 248.5L627.5 250.6"/><path fill="none" stroke-width="1.0" d="M623.5 243.8L628.7 251.7"/><path fill="none" stroke-width="2.8" d="M658.5 189.1L654.9 195.6"/><path fill="none" stroke-width="1.25" d="M655.1 195.1L653.4 197.0M656.0 193.8L660.6 193.8L663.5 195.9"/><path fill="none" stroke-width="1.0" d="M659.5 189.1L664.7 197.0"/><path fill="none" stroke-width="2.8" d="M670.5 187.4L666.9 194.0"/><path fill="none" stroke-width="1.25" d="M667.1 193.5L665.4 195.4M668.0 192.2L672.6 192.2L675.5 194.3"/><path fill="none" stroke-width="1.0" d="M671.5 187.5L676.7 195.4"/><path fill="none" stroke-width="2.8" d="M714.5 174.1L710.9 180.6"/><path fill="none" stroke-width="1.25" d="M711.1 180.1L709.4 182.0M712.0 178.8L716.6 178.8L719.5 180.9"/><path fill="none" stroke-width="1.0" d="M715.5 174.1L720.7 182.0"/><path fill="none" stroke-width="2.8" d="M742.5 133.9L738.9 140.5"/><path fill="none" stroke-width="1.25" d="M739.1 140.0L737.4 141.9M740.0 138.7L744.6 138.7L747.5 140.8"/><path fill="none" stroke-width="1.0" d="M743.5 134.0L748.7 141.9"/><path fill="none" stroke-width="2.8" d="M766.5 96.5L762.9 103.1"/><path fill="none" stroke-width="1.25" d="M763.1 102.6L761.4 104.5M764.0 101.3L768.6 101.3L771.5 103.4"/><path fill="none" stroke-width="1.0" d="M767.5 96.6L772.7 104.5"/><path fill="none" stroke-width="2.8" d="M778.5 96.5L774.9 103.1"/><path fill="none" stroke-width="1.25" d="M775.1 102.6L773.4 104.5M776.0 101.3L780.6 101.3L783.5 103.4"/><path fill="none" stroke-width="1.0" d="M779.5 96.6L784.7 104.5"/><path fill="none" stroke-width="2.8" d="M818.5 54.0L814.9 60.6"/><path fill="none" stroke-width="1.25" d="M815.1 60.1L813.4 62.0M816.0 58.8L820.6 58.8L823.5 60.9"/><path fill="none" stroke-width="1.0" d="M819.5 54.1L824.7 62.0"/><path fill="none" stroke-width="2.8" d="M854.5 51.5L850.9 58.1"/><path fill="none" stroke-width="1.25" d="M851.1 57.6L849.4 59.5M852.0 56.3L856.6 56.3L859.5 58.4"/><path fill="none" stroke-width="1.0" d="M855.5 51.6L860.7 59.5"/><path fill="none" stroke-width="2.8" d="M866.5 35.8L862.9 42.3"/><path fill="none" stroke-width="1.25" d="M863.1 41.8L861.4 43.7M864.0 40.5L868.6 40.5L871.5 42.6"/><path fill="none" stroke-width="1.0" d="M867.5 35.8L872.7 43.7"/><path fill="none" stroke-width="2.8" d="M890.5 50.8L886.9 57.3"/><path fill="none" stroke-width="1.25" d="M887.1 56.8L885.4 58.7M888.0 55.5L892.6 55.5L895.5 57.6"/><path fill="none" stroke-width="1.0" d="M891.5 50.8L896.7 58.7"/><path fill="none" stroke-width="2.8" d="M906.5 55.8L902.9 62.3"/><path fill="none" stroke-width="1.25" d="M903.1 61.8L901.4 63.7M904.0 60.5L908.6 60.5L911.5 62.6"/><path fill="none" stroke-width="1.0" d="M907.5 55.8L912.7 63.7"/><path fill="none" stroke-width="2.8" d="M930.5 63.5L926.9 70.0"/><path fill="none" stroke-width="1.25" d="M927.1 69.5L925.4 71.4M928.0 68.2L932.6 68.2L935.5 70.3"/><path fill="none" stroke-width="1.0" d="M931.5 63.5L936.7 71.4"/><path fill="none" stroke-width="2.8" d="M962.5 64.5L958.9 71.1"/><path fill="none" stroke-width="1.25" d="M959.1 70.6L957.4 72.5M960.0 69.3L964.6 69.3L967.5 71.4"/><path fill="none" stroke-width="1.0" d="M963.5 64.6L968.7 72.5"/><path fill="none" stroke-width="2.8" d="M1002.5 12.9L998.9 19.5"/><path fill="none" stroke-width="1.25" d="M999.1 19.0L997.4 20.9M1000.0 17.7L1004.6 17.7L1007.5 19.8"/><path fill="none" stroke-width="1.0" d="M1003.5 13.0L1008.7 20.9"/><path fill="none" stroke-width="2.8" d="M1050.5 35.5L1046.9 42.0"/><path fill="none" stroke-width="1.25" d="M1047.1 41.5L1045.4 43.4M1048.0 40.2L1052.6 40.2L1055.5 42.3"/><path fill="none" stroke-width="1.0" d="M1051.5 35.5L1056.7 43.4"/><path fill="none" stroke-width="2.8" d="M1062.5 32.5L1058.9 39.1"/><path fill="none" stroke-width="1.25" d="M1059.1 38.6L1057.4 40.5M1060.0 37.3L1064.6 37.3L1067.5 39.4"/><path fill="none" stroke-width="1.0" d="M1063.5 32.6L1068.7 40.5"/><path fill="none" stroke-width="2.8" d="M1114.5 52.0L1110.9 58.6"/><path fill="none" stroke-width="1.25" d="M1111.1 58.1L1109.4 60.0M1112.0 56.8L1116.6 56.8L1119.5 58.9"/><path fill="none" stroke-width="1.0" d="M1115.5 52.1L1120.7 60.0"/><path fill="none" stroke-width="2.8" d="M55.5 475.6L59.1 469.0"/><path fill="none" stroke-width="1.25" d="M58.9 469.5L60.6 467.6M58.0 470.8L53.4 470.8L50.5 468.7"/><path fill="none" stroke-width="1.0" d="M54.5 475.5L49.3 467.6"/><path fill="none" stroke-width="2.8" d="M79.5 473.2L83.1 466.7"/><path fill="none" stroke-width="1.25" d="M82.9 467.2L84.6 465.3M82.0 468.5L77.4 468.5L74.5 466.4"/><path fill="none" stroke-width="1.0" d="M78.5 473.2L73.3 465.3"/><path fill="none" stroke-width="2.8" d="M151.5 436.1L155.1 429.5"/><path fill="none" stroke-width="1.25" d="M154.9 430.0L156.6 428.1M154.0 431.3L149.4 431.3L146.5 429.2"/><path fill="none" stroke-width="1.0" d="M150.5 436.0L145.3 428.1"/><path fill="none" stroke-width="2.8" d="M183.5 421.1L187.1 414.5"/><path fill="none" stroke-width="1.25" d="M186.9 415.0L188.6 413.1M186.0 416.3L181.4 416.3L178.5 414.2"/><path fill="none" stroke-width="1.0" d="M182.5 421.0L177.3 413.1"/><path fill="none" stroke-width="2.8" d="M207.5 410.8L211.1 404.2"/><path fill="none" stroke-width="1.25" d="M210.9 404.7L212.6 402.8M210.0 406.0L205.4 406.0L202.5 403.9"/><path fill="none" stroke-width="1.0" d="M206.5 410.7L201.3 402.8"/><path fill="none" stroke-width="2.8" d="M223.5 417.1L227.1 410.5"/><path fill="none" stroke-width="1.25" d="M226.9 411.0L228.6 409.1M226.0 412.3L221.4 412.3L218.5 410.2"/><path fill="none" stroke-width="1.0" d="M222.5 417.0L217.3 409.1"/><path fill="none" stroke-width="2.8" d="M295.5 360.4L299.1 353.9"/><path fill="none" stroke-width="1.25" d="M298.9 354.4L300.6 352.5M298.0 355.7L293.4 355.7L290.5 353.6"/><path fill="none" stroke-width="1.0" d="M294.5 360.4L289.3 352.5"/><path fill="none" stroke-width="2.8" d="M323.5 365.4L327.1 358.9"/><path fill="none" stroke-width="1.25" d="M326.9 359.4L328.6 357.5M326.0 360.7L321.4 360.7L318.5 358.6"/><path fill="none" stroke-width="1.0" d="M322.5 365.4L317.3 357.5"/><path fill="none" stroke-width="2.8" d="M343.5 385.4L347.1 378.9"/><path fill="none" stroke-width="1.25" d="M346.9 379.4L348.6 377.5M346.0 380.7L341.4 380.7L338.5 378.6"/><path fill="none" stroke-width="1.0" d="M342.5 385.4L337.3 377.5"/><path fill="none" stroke-width="2.8" d="M367.5 358.2L371.1 351.7"/><path fill="none" stroke-width="1.25" d="M370.9 352.2L372.6 350.3M370.0 353.5L365.4 353.5L362.5 351.4"/><path fill="none" stroke-width="1.0" d="M366.5 358.2L361.3 350.3"/><path fill="none" stroke-width="2.8" d="M379.5 358.2L383.1 351.7"/><path fill="none" stroke-width="1.25" d="M382.9 352.2L384.6 350.3M382.0 353.5L377.4 353.5L374.5 351.4"/><path fill="none" stroke-width="1.0" d="M378.5 358.2L373.3 350.3"/><path fill="none" stroke-width="2.8" d="M399.5 367.8L403.1 361.2"/><path fill="none" stroke-width="1.25" d="M402.9 361.7L404.6 359.8M402.0 363.0L397.4 363.0L394.5 360.9"/><path fill="none" stroke-width="1.0" d="M398.5 367.7L393.3 359.8"/><path fill="none" stroke-width="2.8" d="M451.5 283.1L455.1 276.5"/><path fill="none" stroke-width="1.25" d="M454.9 277.0L456.6 275.1M454.0 278.3L449.4 278.3L446.5 276.2"/><path fill="none" stroke-width="1.0" d="M450.5 283.0L445.3 275.1"/><path fill="none" stroke-width="2.8" d="M491.5 300.8L495.1 294.2"/><path fill="none" stroke-width="1.25" d="M494.9 294.7L496.6 292.8M494.0 296.0L489.4 296.0L486.5 293.9"/><path fill="none" stroke-width="1.0" d="M490.5 300.7L485.3 292.8"/><path fill="none" stroke-width="2.8" d="M523.5 322.6L527.1 316.0"/><path fill="none" stroke-width="1.25" d="M526.9 316.5L528.6 314.6M526.0 317.8L521.4 317.8L518.5 315.7"/><path fill="none" stroke-width="1.0" d="M522.5 322.5L517.3 314.6"/><path fill="none" stroke-width="2.8" d="M551.5 276.8L555.1 270.2"/><path fill="none" stroke-width="1.25" d="M554.9 270.7L556.6 268.8M554.0 272.0L549.4 272.0L546.5 269.9"/><path fill="none" stroke-width="1.0" d="M550.5 276.7L545.3 268.8"/><path fill="none" stroke-width="2.8" d="M591.5 324.8L595.1 318.2"/><path fill="none" stroke-width="1.25" d="M594.9 318.7L596.6 316.8M594.0 320.0L589.4 320.0L586.5 317.9"/><path fill="none" stroke-width="1.0" d="M590.5 324.7L585.3 316.8"/><path fill="none" stroke-width="2.8" d="M619.5 297.4L623.1 290.9"/><path fill="none" stroke-width="1.25" d="M622.9 291.4L624.6 289.5M622.0 292.7L617.4 292.7L614.5 290.6"/><path fill="none" stroke-width="1.0" d="M618.5 297.4L613.3 289.5"/><path fill="none" stroke-width="2.8" d="M675.5 247.4L679.1 240.9"/><path fill="none" stroke-width="1.25" d="M678.9 241.4L680.6 239.5M678.0 242.7L673.4 242.7L670.5 240.6"/><path fill="none" stroke-width="1.0" d="M674.5 247.4L669.3 239.5"/><path fill="none" stroke-width="2.8" d="M691.5 250.8L695.1 244.2"/><path fill="none" stroke-width="1.25" d="M694.9 244.7L696.6 242.8M694.0 246.0L689.4 246.0L686.5 243.9"/><path fill="none" stroke-width="1.0" d="M690.5 250.7L685.3 242.8"/><path fill="none" stroke-width="2.8" d="M727.5 219.4L731.1 212.9"/><path fill="none" stroke-width="1.25" d="M730.9 213.4L732.6 211.5M730.0 214.7L725.4 214.7L722.5 212.6"/><path fill="none" stroke-width="1.0" d="M726.5 219.4L721.3 211.5"/><path fill="none" stroke-width="2.8" d="M751.5 173.6L755.1 167.0"/><path fill="none" stroke-width="1.25" d="M754.9 167.5L756.6 165.6M754.0 168.8L749.4 168.8L746.5 166.7"/><path fill="none" stroke-width="1.0" d="M750.5 173.5L745.3 165.6"/><path fill="none" stroke-width="2.8" d="M803.5 155.1L807.1 148.5"/><path fill="none" stroke-width="1.25" d="M806.9 149.0L808.6 147.1M806.0 150.3L801.4 150.3L798.5 148.2"/><path fill="none" stroke-width="1.0" d="M802.5 155.0L797.3 147.1"/><path fill="none" stroke-width="2.8" d="M859.5 94.5L863.1 87.9"/><path fill="none" stroke-width="1.25" d="M862.9 88.4L864.6 86.5M862.0 89.7L857.4 89.7L854.5 87.6"/><path fill="none" stroke-width="1.0" d="M858.5 94.4L853.3 86.5"/><path fill="none" stroke-width="2.8" d="M883.5 100.0L887.1 93.5"/><path fill="none" stroke-width="1.25" d="M886.9 94.0L888.6 92.1M886.0 95.3L881.4 95.3L878.5 93.2"/><path fill="none" stroke-width="1.0" d="M882.5 100.0L877.3 92.1"/><path fill="none" stroke-width="2.8" d="M903.5 115.0L907.1 108.5"/><path fill="none" stroke-width="1.25" d="M906.9 109.0L908.6 107.1M906.0 110.3L901.4 110.3L898.5 108.2"/><path fill="none" stroke-width="1.0" d="M902.5 115.0L897.3 107.1"/><path fill="none" stroke-width="2.8" d="M923.5 111.5L927.1 104.9"/><path fill="none" stroke-width="1.25" d="M926.9 105.4L928.6 103.5M926.0 106.7L921.4 106.7L918.5 104.6"/><path fill="none" stroke-width="1.0" d="M922.5 111.4L917.3 103.5"/><path fill="none" stroke-width="2.8" d="M947.5 120.8L951.1 114.2"/><path fill="none" stroke-width="1.25" d="M950.9 114.7L952.6 112.8M950.0 116.0L945.4 116.0L942.5 113.9"/><path fill="none" stroke-width="1.0" d="M946.5 120.7L941.3 112.8"/><path fill="none" stroke-width="2.8" d="M971.5 131.8L975.1 125.2"/><path fill="none" stroke-width="1.25" d="M974.9 125.7L976.6 123.8M974.0 127.0L969.4 127.0L966.5 124.9"/><path fill="none" stroke-width="1.0" d="M970.5 131.7L965.3 123.8"/><path fill="none" stroke-width="2.8" d="M1035.5 109.5L1039.1 103.0"/><path fill="none" stroke-width="1.25" d="M1038.9 103.5L1040.6 101.6M1038.0 104.8L1033.4 104.8L1030.5 102.7"/><path fill="none" stroke-width="1.0" d="M1034.5 109.5L1029.3 101.6"/><path fill="none" stroke-width="2.8" d="M1055.5 95.8L1059.1 89.2"/><path fill="none" stroke-width="1.25" d="M1058.9 89.7L1060.6 87.8M1058.0 91.0L1053.4 91.0L1050.5 88.9"/><path fill="none" stroke-width="1.0" d="M1054.5 95.7L1049.3 87.8"/><path fill="none" stroke-width="2.8" d="M1087.5 249.8L1091.1 243.2"/><path fill="none" stroke-width="1.25" d="M1090.9 243.7L1092.6 241.8M1090.0 245.0L1085.4 245.0L1082.5 242.9"/><path fill="none" stroke-width="1.0" d="M1086.5 249.7L1081.3 241.8"/>
</g>
<rect class="c" x="2" y="2" width="1159" height="1" fill="#000"/>
<rect class="c" x="2" y="475" width="1159" height="1" fill="#000"/>
<rect class="c" x="2" y="477" width="1159" height="1" fill="#000"/>
<rect class="c" x="2" y="530" width="1159" height="1" fill="#000"/>
<rect class="c" x="2" y="532" width="1159" height="1" fill="#000"/>
<rect class="c" x="2" y="582" width="1159" height="1" fill="#000"/>
<rect class="c" x="2" y="2" width="1" height="581" fill="#000"/>
<rect class="c" x="1160" y="2" width="1" height="581" fill="#000"/>
<rect class="c" x="0" y="476" width="1200" height="1" fill="#E0FFFF"/>
<rect class="c" x="0" y="531" width="1200" height="1" fill="#E0FFFF"/>
<rect class="c" x="35" y="476" width="1" height="1" fill="#778899"/><rect class="c" x="35" y="531" width="1" height="1" fill="#778899"/><rect class="c" x="67" y="476" width="1" height="1" fill="#778899"/><rect class="c" x="67" y="531" width="1" height="1" fill="#778899"/><rect class="c" x="99" y="476" width="1" height="1" fill="#778899"/><rect class="c" x="99" y="531" width="1" height="1" fill="#778899"/><rect class="c" x="131" y="476" width="1" height="1" fill="#778899"/><rect class="c" x="131" y="531" width="1" height="1" fill="#778899"/><rect class="c" x="163" y="476" width="1" height="1" fill="#778899"/><rect class="c" x="163" y="531" width="1" height="1" fill="#778899"/><rect class="c" x="195" y="476" width="1" height="1" fill="#778899"/><rect class="c" x="195" y="531" width="1" height="1" fill="#778899"/><rect class="c" x="227" y="476" width="1" height="1" fill="#778899"/><rect class="c" x="227" y="531" width="1" height="1" fill="#778899"/><rect class="c" x="259" y="476" width="1" height="1" fill="#778899"/><rect class="c" x="259" y="531" width="1" height="1" fill="#778899"/><rect class="c" x="291" y="476" width="1" height="1" fill="#778899"/><rect class="c" x="291" y="531" width="1" height="1" fill="#778899"/><rect class="c" x="323" y="476" width="1" height="1" fill="#778899"/><rect class="c" x="323" y="531" width="1" height="1" fill="#778899"/><rect class="c" x="355" y="476" width="1" height="1" fill="#778899"/><rect class="c" x="355" y="531" width="1" height="1" fill="#778899"/><rect class="c" x="387" y="476" width="1" height="1" fill="#778899"/><rect class="c" x="387" y="531" width="1" height="1" fill="#778899"/><rect class="c" x="419" y="476" width="1" height="1" fill="#778899"/><rect class="c" x="419" y="531" width="1" height="1" fill="#778899"/><rect class="c" x="451" y="476" width="1" height="1" fill="#778899"/><rect class="c" x="451" y="531" width="1" height="1" fill="#778899"/><rect class="c" x="483" y="476" width="1" height="1" fill="#778899"/><rect class="c" x="483" y="531" width="1" height="1" fill="#778899"/><rect class="c" x="515" y="476" width="1" height="1" fill="#778899"/><rect class="c" x="515" y="531" width="1" height="1" fill="#778899"/><rect class="c" x="547" y="476" width="1" height="1" fill="#778899"/><rect class="c" x="547" y="531" width="1" height="1" fill="#778899"/><rect class="c" x="579" y="476" width="1" height="1" fill="#778899"/><rect class="c" x="579" y="531" width="1" height="1" fill="#778899"/><rect class="c" x="611" y="476" width="1" height="1" fill="#778899"/><rect class="c" x="611" y="531" width="1" height="1" fill="#778899"/><rect class="c" x="643" y="476" width="1" height="1" fill="#778899"/><rect class="c" x="643" y="531" width="1" height="1" fill="#778899"/><rect class="c" x="675" y="476" width="1" height="1" fill="#778899"/><rect class="c" x="675" y="531" width="1" height="1" fill="#778899"/><rect class="c" x="707" y="476" width="1" height="1" fill="#778899"/><rect class="c" x="707" y="531" width="1" height="1" fill="#778899"/><rect class="c" x="739" y="476" width="1" height="1" fill="#778899"/><rect class="c" x="739" y="531" width="1" height="1" fill="#778899"/><rect class="c" x="771" y="476" width="1" height="1" fill="#778899"/><rect class="c" x="771" y="531" width="1" height="1" fill="#778899"/><rect class="c" x="803" y="476" width="1" height="1" fill="#778899"/><rect class="c" x="803" y="531" width="1" height="1" fill="#778899"/><rect class="c" x="835" y="476" width="1" height="1" fill="#778899"/><rect class="c" x="835" y="531" width="1" height="1" fill="#778899"/><rect class="c" x="867" y="476" width="1" height="1" fill="#778899"/><rect class="c" x="867" y="531" width="1" height="1" fill="#778899"/><rect class="c" x="899" y="476" width="1" height="1" fill="#778899"/><rect class="c" x="899" y="531" width="1" height="1" fill="#778899"/><rect class="c" x="931" y="476" width="1" height="1" fill="#778899"/><rect class="c" x="931" y="531" width="1" height="1" fill="#778899"/><rect class="c" x="963" y="476" width="1" height="1" fill="#778899"/><rect class="c" x="963" y="531" width="1" height="1" fill="#778899"/><rect class="c" x="995" y="476" width="1" height="1" fill="#778899"/><rect class="c" x="995" y="531" width="1" height="1" fill="#778899"/><rect class="c" x="1027" y="476" width="1" height="1" fill="#778899"/><rect class="c" x="1027" y="531" width="1" height="1" fill="#778899"/><rect class="c" x="1059" y="476" width="1" height="1" fill="#778899"/><rect class="c" x="1059" y="531" width="1" height="1" fill="#778899"/><rect class="c" x="1091" y="476" width="1" height="1" fill="#778899"/><rect class="c" x="1091" y="531" width="1" height="1" fill="#778899"/><rect class="c" x="1123" y="476" width="1" height="1" fill="#778899"/><rect class="c" x="1123" y="531" width="1" height="1" fill="#778899"/><rect class="c" x="1155" y="476" width="1" height="1" fill="#778899"/><rect class="c" x="1155" y="531" width="1" height="1" fill="#778899"/>
<rect class="c" x="1161" y="25" width="2" height="1" fill="#000"/>
<rect class="c" x="1161" y="57" width="2" height="1" fill="#000"/>
<rect class="c" x="1161" y="89" width="2" height="1" fill="#000"/>
<rect class="c" x="1161" y="121" width="2" height="1" fill="#000"/>
<rect class="c" x="1161" y="153" width="2" height="1" fill="#000"/>
<rect class="c" x="1161" y="185" width="2" height="1" fill="#000"/>
<rect class="c" x="1161" y="217" width="2" height="1" fill="#000"/>
<rect class="c" x="1161" y="249" width="2" height="1" fill="#000"/>
<rect class="c" x="1161" y="281" width="2" height="1" fill="#000"/>
<rect class="c" x="1161" y="313" width="2" height="1" fill="#000"/>
<rect class="c" x="1161" y="345" width="2" height="1" fill="#000"/>
<rect class="c" x="1161" y="377" width="2" height="1" fill="#000"/>
<rect class="c" x="1161" y="409" width="2" height="1" fill="#000"/>
<rect class="c" x="1161" y="441" width="2" height="1" fill="#000"/>
<rect class="c" x="1161" y="473" width="2" height="1" fill="#000"/>
<rect class="c" x="1163" y="114" width="29" height="11" fill="#000"/>
<rect class="c" x="1161" y="506" width="2" height="1" fill="#000"/>
<rect class="c" x="1161" y="556" width="2" height="1" fill="#000"/>
<rect class="c" x="6" y="5" width="144" height="11" fill="#E0FFFF"/>
<rect class="c" x="3" y="583" width="1" height="3" fill="#000"/>
<rect class="c" x="67" y="583" width="1" height="3" fill="#000"/>
<rect class="c" x="131" y="583" width="1" height="3" fill="#000"/>
<rect class="c" x="195" y="583" width="1" height="3" fill="#000"/>
<rect class="c" x="259" y="583" width="1" height="3" fill="#000"/>
<rect class="c" x="323" y="583" width="1" height="3" fill="#000"/>
<rect class="c" x="387" y="583" width="1" height="3" fill="#000"/>
<rect class="c" x="451" y="583" width="1" height="3" fill="#000"/>
<rect class="c" x="515" y="583" width="1" height="3" fill="#000"/>
<rect class="c" x="579" y="583" width="1" height="3" fill="#000"/>
<rect class="c" x="643" y="583" width="1" height="3" fill="#000"/>
<rect class="c" x="707" y="583" width="1" height="3" fill="#000"/>
<rect class="c" x="771" y="583" width="1" height="3" fill="#000"/>
<rect class="c" x="835" y="583" width="1" height="3" fill="#000"/>
<rect class="c" x="899" y="583" width="1" height="3" fill="#000"/>
<rect class="c" x="963" y="583" width="1" height="3" fill="#000"/>
<rect class="c" x="1027" y="583" width="1" height="3" fill="#000"/>
<rect class="c" x="1091" y="583" width="1" height="3" fill="#000"/>
<g id="labels" style="isolation:isolate" opacity="0.999">
<text x="1165.5" y="28" textLength="22.5" lengthAdjust="spacingAndGlyphs">76.05</text>
<text x="1165.5" y="60" textLength="22.5" lengthAdjust="spacingAndGlyphs">73.95</text>
<text x="1165.5" y="92" textLength="22.5" lengthAdjust="spacingAndGlyphs">71.85</text>
<text x="1165.5" y="156" textLength="22.5" lengthAdjust="spacingAndGlyphs">67.60</text>
<text x="1165.5" y="188" textLength="22.5" lengthAdjust="spacingAndGlyphs">65.50</text>
<text x="1165.5" y="220" textLength="22.5" lengthAdjust="spacingAndGlyphs">63.40</text>
<text x="1165.5" y="252" textLength="22.5" lengthAdjust="spacingAndGlyphs">61.30</text>
<text x="1165.5" y="284" textLength="22.5" lengthAdjust="spacingAndGlyphs">59.15</text>
<text x="1165.5" y="316" textLength="22.5" lengthAdjust="spacingAndGlyphs">57.05</text>
<text x="1165.5" y="348" textLength="22.5" lengthAdjust="spacingAndGlyphs">54.95</text>
<text x="1165.5" y="380" textLength="22.5" lengthAdjust="spacingAndGlyphs">52.85</text>
<text x="1165.5" y="412" textLength="22.5" lengthAdjust="spacingAndGlyphs">50.70</text>
<text x="1165.5" y="444" textLength="22.5" lengthAdjust="spacingAndGlyphs">48.60</text>
<text x="1165.5" y="476" textLength="22.5" lengthAdjust="spacingAndGlyphs">46.50</text>
<text x="1165.5" y="123" textLength="22.5" lengthAdjust="spacingAndGlyphs" fill="#fff" stroke="#fff" stroke-width="0.45">69.81</text>
<text x="1163.3" y="488" textLength="23" lengthAdjust="spacingAndGlyphs">5.432</text>
<text x="1163.3" y="510" textLength="18" lengthAdjust="spacingAndGlyphs">0.00</text>
<text x="1163.3" y="527" textLength="26.7" lengthAdjust="spacingAndGlyphs">-4.434</text>
<text x="1163.3" y="543" textLength="18" lengthAdjust="spacingAndGlyphs">2.05</text>
<text x="1163.3" y="560" textLength="18" lengthAdjust="spacingAndGlyphs">0.00</text>
<text x="1163.3" y="579.5" textLength="31" lengthAdjust="spacingAndGlyphs">-2.0541</text>
<text x="7" y="14" textLength="35.4" lengthAdjust="spacingAndGlyphs">#BA,H4</text>
<text x="47.4" y="14" textLength="23" lengthAdjust="spacingAndGlyphs">69.63</text>
<text x="73.4" y="14" textLength="23" lengthAdjust="spacingAndGlyphs">69.97</text>
<text x="99.4" y="14" textLength="23" lengthAdjust="spacingAndGlyphs">68.97</text>
<text x="125.4" y="14" textLength="23" lengthAdjust="spacingAndGlyphs">69.81</text>
<text x="6.8" y="491" textLength="14.6" lengthAdjust="spacingAndGlyphs">AO</text>
<text x="24.4" y="491" textLength="26" lengthAdjust="spacingAndGlyphs">-0.661</text>
<text x="6.4" y="546" textLength="14.4" lengthAdjust="spacingAndGlyphs">AC</text>
<text x="23.7" y="546" textLength="31" lengthAdjust="spacingAndGlyphs">-0.4088</text>
<text x="5.7" y="578" textLength="241" lengthAdjust="spacingAndGlyphs">MetaTrader, © 2001-2010 MetaQuotes Software Corp.</text>
<text x="2.6" y="595" textLength="50.5" lengthAdjust="spacingAndGlyphs">19 Oct 2009</text>
<text x="66.6" y="595" textLength="53.5" lengthAdjust="spacingAndGlyphs">29 Oct 18:00</text>
<text x="130.6" y="595" textLength="55.5" lengthAdjust="spacingAndGlyphs">10 Nov 19:00</text>
<text x="194.6" y="595" textLength="55.5" lengthAdjust="spacingAndGlyphs">20 Nov 19:00</text>
<text x="258.6" y="595" textLength="50.5" lengthAdjust="spacingAndGlyphs">4 Dec 15:00</text>
<text x="322.6" y="595" textLength="55.5" lengthAdjust="spacingAndGlyphs">16 Dec 15:00</text>
<text x="386.6" y="595" textLength="55.5" lengthAdjust="spacingAndGlyphs">29 Dec 19:00</text>
<text x="450.6" y="595" textLength="53.5" lengthAdjust="spacingAndGlyphs">12 Jan 15:00</text>
<text x="514.6" y="595" textLength="53.5" lengthAdjust="spacingAndGlyphs">25 Jan 15:00</text>
<text x="578.6" y="595" textLength="49.5" lengthAdjust="spacingAndGlyphs">4 Feb 15:00</text>
<text x="642.6" y="595" textLength="54.5" lengthAdjust="spacingAndGlyphs">17 Feb 15:00</text>
<text x="706.6" y="595" textLength="49.5" lengthAdjust="spacingAndGlyphs">1 Mar 15:00</text>
<text x="770.6" y="595" textLength="54.5" lengthAdjust="spacingAndGlyphs">11 Mar 15:00</text>
<text x="834.6" y="595" textLength="54.5" lengthAdjust="spacingAndGlyphs">23 Mar 14:00</text>
<text x="898.6" y="595" textLength="48.5" lengthAdjust="spacingAndGlyphs">5 Apr 15:00</text>
<text x="962.6" y="595" textLength="53.5" lengthAdjust="spacingAndGlyphs">15 Apr 15:00</text>
<text x="1026.6" y="595" textLength="53.5" lengthAdjust="spacingAndGlyphs">27 Apr 15:00</text>
<text x="1090.6" y="595" textLength="51.5" lengthAdjust="spacingAndGlyphs">7 May 15:00</text>
</g>
</svg>
</body></html>
